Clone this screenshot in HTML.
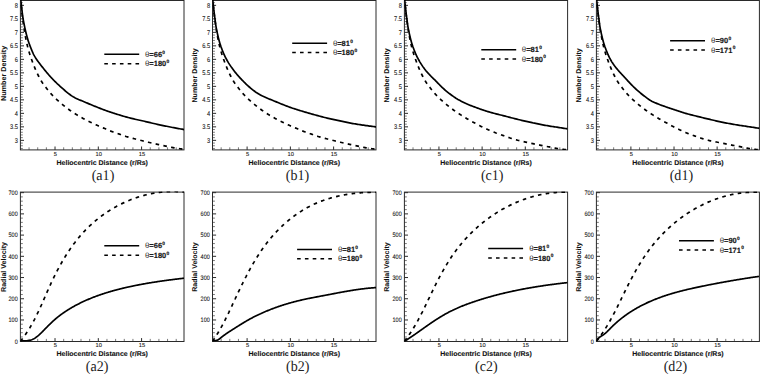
<!DOCTYPE html>
<html><head><meta charset="utf-8"><style>
html,body{margin:0;padding:0;background:#fff;width:760px;height:374px;overflow:hidden}
svg{display:block}
text{font-family:"Liberation Sans", sans-serif;text-rendering:geometricPrecision}
.serif{font-family:"Liberation Serif", serif}
</style></head><body>
<svg width="760" height="374" viewBox="0 0 760 374">
<rect width="760" height="374" fill="#fff"/>
<clipPath id="c00"><rect x="20.40" y="0.00" width="163.60" height="149.90"/></clipPath>
<text transform="translate(18.00,142.75) scale(0.084,0.1)" text-anchor="end" font-size="68.0" fill="#111" stroke="#111" stroke-width="0.8">3</text>
<text transform="translate(18.00,129.25) scale(0.084,0.1)" text-anchor="end" font-size="68.0" fill="#111" stroke="#111" stroke-width="0.8">3.5</text>
<text transform="translate(18.00,115.75) scale(0.084,0.1)" text-anchor="end" font-size="68.0" fill="#111" stroke="#111" stroke-width="0.8">4</text>
<text transform="translate(18.00,102.25) scale(0.084,0.1)" text-anchor="end" font-size="68.0" fill="#111" stroke="#111" stroke-width="0.8">4.5</text>
<text transform="translate(18.00,88.75) scale(0.084,0.1)" text-anchor="end" font-size="68.0" fill="#111" stroke="#111" stroke-width="0.8">5</text>
<text transform="translate(18.00,75.25) scale(0.084,0.1)" text-anchor="end" font-size="68.0" fill="#111" stroke="#111" stroke-width="0.8">5.5</text>
<text transform="translate(18.00,61.75) scale(0.084,0.1)" text-anchor="end" font-size="68.0" fill="#111" stroke="#111" stroke-width="0.8">6</text>
<text transform="translate(18.00,48.25) scale(0.084,0.1)" text-anchor="end" font-size="68.0" fill="#111" stroke="#111" stroke-width="0.8">6.5</text>
<text transform="translate(18.00,34.75) scale(0.084,0.1)" text-anchor="end" font-size="68.0" fill="#111" stroke="#111" stroke-width="0.8">7</text>
<text transform="translate(18.00,21.25) scale(0.084,0.1)" text-anchor="end" font-size="68.0" fill="#111" stroke="#111" stroke-width="0.8">7.5</text>
<text transform="translate(18.00,7.75) scale(0.084,0.1)" text-anchor="end" font-size="68.0" fill="#111" stroke="#111" stroke-width="0.8">8</text>
<text transform="translate(55.42,155.90) scale(0.1,0.1)" text-anchor="middle" font-size="58.0" fill="#111" stroke="#111" stroke-width="0.8">5</text>
<text transform="translate(98.70,155.90) scale(0.1,0.1)" text-anchor="middle" font-size="58.0" fill="#111" stroke="#111" stroke-width="0.8">10</text>
<text transform="translate(141.99,155.90) scale(0.1,0.1)" text-anchor="middle" font-size="58.0" fill="#111" stroke="#111" stroke-width="0.8">15</text>
<path d="M20.40,140.35h3.60M20.40,126.85h3.60M20.40,113.35h3.60M20.40,99.85h3.60M20.40,86.35h3.60M20.40,72.85h3.60M20.40,59.35h3.60M20.40,45.85h3.60M20.40,32.35h3.60M20.40,18.85h3.60M20.40,5.35h3.60M55.02,149.90v-3.40M98.30,149.90v-3.40M141.59,149.90v-3.40" stroke="#2a2a2a" stroke-width="1" fill="none"/>
<path d="M20.40,148.45h2.40M20.40,145.75h2.40M20.40,143.05h2.40M20.40,137.65h2.40M20.40,134.95h2.40M20.40,132.25h2.40M20.40,129.55h2.40M20.40,124.15h2.40M20.40,121.45h2.40M20.40,118.75h2.40M20.40,116.05h2.40M20.40,110.65h2.40M20.40,107.95h2.40M20.40,105.25h2.40M20.40,102.55h2.40M20.40,97.15h2.40M20.40,94.45h2.40M20.40,91.75h2.40M20.40,89.05h2.40M20.40,83.65h2.40M20.40,80.95h2.40M20.40,78.25h2.40M20.40,75.55h2.40M20.40,70.15h2.40M20.40,67.45h2.40M20.40,64.75h2.40M20.40,62.05h2.40M20.40,56.65h2.40M20.40,53.95h2.40M20.40,51.25h2.40M20.40,48.55h2.40M20.40,43.15h2.40M20.40,40.45h2.40M20.40,37.75h2.40M20.40,35.05h2.40M20.40,29.65h2.40M20.40,26.95h2.40M20.40,24.25h2.40M20.40,21.55h2.40M20.40,16.15h2.40M20.40,13.45h2.40M20.40,10.75h2.40M20.40,8.05h2.40M20.40,2.65h2.40M29.06,149.90v-2.60M37.71,149.90v-2.60M46.37,149.90v-2.60M63.68,149.90v-2.60M72.34,149.90v-2.60M80.99,149.90v-2.60M89.65,149.90v-2.60M106.96,149.90v-2.60M115.62,149.90v-2.60M124.27,149.90v-2.60M132.93,149.90v-2.60M150.24,149.90v-2.60M158.90,149.90v-2.60M167.55,149.90v-2.60M176.21,149.90v-2.60" stroke="#555" stroke-width="0.8" fill="none"/>
<rect x="20.40" y="0.50" width="163.60" height="149.40" fill="none" stroke="#2a2a2a" stroke-width="1"/>
<g clip-path="url(#c00)" fill="none" stroke="#000" stroke-width="1.7">
<path d="M20.40,-3.00L20.54,-1.81 20.69,-0.62 20.83,0.57 20.98,1.77 21.12,2.96 21.26,4.15 21.40,5.34 21.54,6.53 21.68,7.72 21.81,8.92 21.94,10.11 22.08,11.30 22.22,12.49 22.37,13.68 22.52,14.87 22.68,16.06 22.86,17.25 23.04,18.44 23.24,19.62 23.45,20.80 23.66,21.98 23.89,23.16 24.12,24.34 24.35,25.52 24.60,26.69 24.85,27.86 25.11,29.03 25.38,30.20 25.65,31.37 25.93,32.54 26.23,33.70 26.53,34.86 26.84,36.02 27.15,37.18 27.48,38.34 27.82,39.49 28.17,40.63 28.54,41.78 28.92,42.91 29.32,44.04 29.74,45.17 30.16,46.29 30.60,47.41 31.05,48.52 31.51,49.63 31.97,50.74 32.44,51.84 32.93,52.94 33.44,54.02 33.98,55.09 34.56,56.14 35.17,57.17 35.81,58.19 36.48,59.19 37.16,60.17 37.85,61.15 38.55,62.13 39.26,63.10 39.98,64.06 40.71,65.01 41.45,65.96 42.19,66.89 42.95,67.83 43.70,68.76 44.45,69.70 45.20,70.63 45.96,71.57 46.72,72.50 47.49,73.41 48.27,74.32 49.07,75.22 49.88,76.11 50.69,76.99 51.51,77.87 52.33,78.74 53.16,79.60 54.00,80.47 54.84,81.32 55.69,82.17 56.55,83.00 57.42,83.83 58.31,84.64 59.19,85.45 60.08,86.26 60.97,87.06 61.86,87.87 62.76,88.66 63.66,89.46 64.56,90.25 65.47,91.03 66.39,91.80 67.32,92.56 68.25,93.31 69.20,94.05 70.17,94.76 71.15,95.45 72.15,96.11 73.17,96.74 74.21,97.34 75.26,97.91 76.33,98.45 77.42,98.95 78.52,99.44 79.62,99.91 80.73,100.37 81.84,100.83 82.94,101.30 84.05,101.76 85.16,102.23 86.26,102.70 87.37,103.16 88.47,103.63 89.58,104.09 90.69,104.55 91.80,105.01 92.91,105.46 94.02,105.92 95.13,106.37 96.24,106.82 97.35,107.27 98.47,107.72 99.58,108.16 100.70,108.60 101.82,109.03 102.94,109.45 104.07,109.87 105.20,110.28 106.33,110.69 107.46,111.08 108.59,111.48 109.73,111.87 110.86,112.25 112.00,112.63 113.14,113.00 114.28,113.37 115.43,113.74 116.57,114.10 117.72,114.46 118.86,114.81 120.01,115.17 121.16,115.51 122.31,115.86 123.46,116.20 124.61,116.53 125.77,116.86 126.92,117.18 128.08,117.49 129.24,117.80 130.40,118.09 131.57,118.38 132.73,118.66 133.90,118.94 135.07,119.21 136.24,119.47 137.41,119.73 138.59,119.99 139.76,120.24 140.93,120.50 142.10,120.76 143.27,121.02 144.44,121.29 145.61,121.56 146.78,121.84 147.95,122.12 149.11,122.40 150.28,122.68 151.45,122.96 152.62,123.23 153.78,123.51 154.95,123.78 156.12,124.04 157.29,124.31 158.47,124.56 159.64,124.82 160.81,125.07 161.99,125.32 163.16,125.57 164.33,125.81 165.51,126.05 166.69,126.29 167.86,126.53 169.04,126.77 170.22,127.00 171.39,127.23 172.57,127.46 173.75,127.68 174.93,127.90 176.11,128.12 177.29,128.34 178.47,128.55 179.65,128.77 180.83,128.98 181.99,129.20 183.12,129.40 184.20,129.60"/>
<path d="M20.40,-3.00L20.50,-1.80 20.61,-0.61 20.71,0.59 20.82,1.78 20.92,2.98 21.03,4.17 21.14,5.37 21.26,6.56 21.38,7.76 21.51,8.95 21.64,10.14 21.78,11.33 21.92,12.52 22.06,13.72 22.21,14.91 22.36,16.10 22.51,17.29 22.66,18.48 22.81,19.67 22.97,20.86 23.12,22.05 23.28,23.24 23.44,24.43 23.61,25.62 23.78,26.80 23.95,27.99 24.14,29.18 24.32,30.36 24.51,31.55 24.71,32.73 24.92,33.91 25.13,35.09 25.36,36.27 25.60,37.45 25.84,38.62 26.09,39.80 26.33,40.97 26.58,42.15 26.83,43.32 27.08,44.49 27.35,45.66 27.63,46.83 27.92,47.99 28.23,49.15 28.56,50.31 28.90,51.46 29.25,52.60 29.62,53.75 29.99,54.89 30.37,56.03 30.75,57.16 31.15,58.29 31.56,59.42 31.97,60.55 32.39,61.68 32.81,62.80 33.24,63.92 33.67,65.04 34.11,66.16 34.55,67.27 35.01,68.38 35.48,69.48 35.96,70.58 36.45,71.68 36.95,72.77 37.47,73.85 37.99,74.93 38.53,76.00 39.09,77.07 39.65,78.13 40.23,79.17 40.83,80.21 41.45,81.24 42.09,82.26 42.75,83.26 43.43,84.24 44.13,85.22 44.85,86.18 45.57,87.14 46.31,88.09 47.05,89.03 47.81,89.96 48.56,90.89 49.33,91.82 50.11,92.73 50.90,93.63 51.70,94.52 52.52,95.40 53.35,96.27 54.19,97.13 55.04,97.97 55.90,98.81 56.77,99.63 57.66,100.44 58.55,101.24 59.46,102.03 60.37,102.80 61.30,103.57 62.23,104.33 63.16,105.08 64.10,105.83 65.04,106.57 65.99,107.31 66.94,108.05 67.89,108.77 68.85,109.49 69.82,110.20 70.79,110.90 71.78,111.59 72.77,112.26 73.77,112.92 74.78,113.57 75.80,114.21 76.82,114.84 77.85,115.46 78.88,116.06 79.92,116.66 80.97,117.25 82.02,117.84 83.07,118.41 84.12,118.99 85.18,119.55 86.24,120.11 87.32,120.64 88.40,121.17 89.48,121.68 90.56,122.20 91.64,122.72 92.72,123.25 93.80,123.78 94.88,124.30 95.96,124.82 97.05,125.32 98.14,125.81 99.25,126.29 100.35,126.75 101.47,127.20 102.58,127.66 103.69,128.11 104.79,128.57 105.90,129.04 107.00,129.51 108.11,129.98 109.21,130.45 110.32,130.90 111.44,131.35 112.56,131.77 113.69,132.18 114.82,132.58 115.95,132.97 117.09,133.35 118.23,133.74 119.36,134.13 120.50,134.52 121.63,134.92 122.76,135.32 123.89,135.71 125.03,136.09 126.17,136.47 127.32,136.82 128.47,137.17 129.62,137.50 130.78,137.82 131.93,138.13 133.09,138.44 134.26,138.74 135.42,139.04 136.58,139.34 137.74,139.63 138.91,139.92 140.07,140.21 141.24,140.49 142.40,140.78 143.57,141.08 144.73,141.37 145.90,141.66 147.06,141.95 148.23,142.23 149.40,142.50 150.57,142.77 151.74,143.04 152.91,143.30 154.08,143.56 155.25,143.82 156.42,144.09 157.59,144.34 158.76,144.60 159.94,144.85 161.11,145.11 162.28,145.36 163.45,145.62 164.63,145.88 165.80,146.14 166.97,146.40 168.14,146.66 169.31,146.91 170.49,147.14 171.67,147.37 172.85,147.59 174.03,147.81 175.21,148.01 176.39,148.21 177.58,148.39 178.77,148.57 179.96,148.73 181.14,148.89 182.30,149.04 183.39,149.17 184.40,149.30" stroke-dasharray="3.6 4.3"/>
</g>
<path d="M104.30,54.20h34.9" stroke="#000" stroke-width="1.5"/>
<path d="M104.30,63.70h34.9" stroke="#000" stroke-width="1.5" stroke-dasharray="3.6 4.2"/>
<text transform="translate(145.00,56.80) scale(0.1,0.1)" font-size="75.0" fill="#1a1a1a" stroke="#1a1a1a" stroke-width="1.8"><tspan fill="#333" stroke="none" font-size="78">&#952;</tspan><tspan font-weight="bold">=66</tspan><tspan font-size="48" dy="-33" dx="3" font-weight="bold">0</tspan></text>
<text transform="translate(145.00,66.30) scale(0.1,0.1)" font-size="75.0" fill="#1a1a1a" stroke="#1a1a1a" stroke-width="1.8"><tspan fill="#333" stroke="none" font-size="78">&#952;</tspan><tspan font-weight="bold">=180</tspan><tspan font-size="48" dy="-33" dx="3" font-weight="bold">0</tspan></text>
<text transform="translate(102.20,164.80) scale(0.1,0.1)" text-anchor="middle" font-size="70.0" font-weight="bold" fill="#111" stroke="#111" stroke-width="1.2">Heliocentric Distance (r/Rs)</text>
<text transform="translate(5.50,73.40) rotate(-90) scale(0.1,0.1)" text-anchor="middle" font-size="72.0" font-weight="bold" fill="#111" stroke="#111" stroke-width="0.5">Number Density</text>
<text transform="translate(103.00,179.60) scale(0.095,0.1)" text-anchor="middle" font-size="148.0" class="serif" fill="#222">(a1)</text>
<clipPath id="c10"><rect x="212.50" y="0.00" width="163.50" height="149.90"/></clipPath>
<text transform="translate(210.10,142.75) scale(0.084,0.1)" text-anchor="end" font-size="68.0" fill="#111" stroke="#111" stroke-width="0.8">3</text>
<text transform="translate(210.10,129.25) scale(0.084,0.1)" text-anchor="end" font-size="68.0" fill="#111" stroke="#111" stroke-width="0.8">3.5</text>
<text transform="translate(210.10,115.75) scale(0.084,0.1)" text-anchor="end" font-size="68.0" fill="#111" stroke="#111" stroke-width="0.8">4</text>
<text transform="translate(210.10,102.25) scale(0.084,0.1)" text-anchor="end" font-size="68.0" fill="#111" stroke="#111" stroke-width="0.8">4.5</text>
<text transform="translate(210.10,88.75) scale(0.084,0.1)" text-anchor="end" font-size="68.0" fill="#111" stroke="#111" stroke-width="0.8">5</text>
<text transform="translate(210.10,75.25) scale(0.084,0.1)" text-anchor="end" font-size="68.0" fill="#111" stroke="#111" stroke-width="0.8">5.5</text>
<text transform="translate(210.10,61.75) scale(0.084,0.1)" text-anchor="end" font-size="68.0" fill="#111" stroke="#111" stroke-width="0.8">6</text>
<text transform="translate(210.10,48.25) scale(0.084,0.1)" text-anchor="end" font-size="68.0" fill="#111" stroke="#111" stroke-width="0.8">6.5</text>
<text transform="translate(210.10,34.75) scale(0.084,0.1)" text-anchor="end" font-size="68.0" fill="#111" stroke="#111" stroke-width="0.8">7</text>
<text transform="translate(210.10,21.25) scale(0.084,0.1)" text-anchor="end" font-size="68.0" fill="#111" stroke="#111" stroke-width="0.8">7.5</text>
<text transform="translate(210.10,7.75) scale(0.084,0.1)" text-anchor="end" font-size="68.0" fill="#111" stroke="#111" stroke-width="0.8">8</text>
<text transform="translate(247.50,155.90) scale(0.1,0.1)" text-anchor="middle" font-size="58.0" fill="#111" stroke="#111" stroke-width="0.8">5</text>
<text transform="translate(290.76,155.90) scale(0.1,0.1)" text-anchor="middle" font-size="58.0" fill="#111" stroke="#111" stroke-width="0.8">10</text>
<text transform="translate(334.01,155.90) scale(0.1,0.1)" text-anchor="middle" font-size="58.0" fill="#111" stroke="#111" stroke-width="0.8">15</text>
<path d="M212.50,140.35h3.60M212.50,126.85h3.60M212.50,113.35h3.60M212.50,99.85h3.60M212.50,86.35h3.60M212.50,72.85h3.60M212.50,59.35h3.60M212.50,45.85h3.60M212.50,32.35h3.60M212.50,18.85h3.60M212.50,5.35h3.60M247.10,149.90v-3.40M290.36,149.90v-3.40M333.61,149.90v-3.40" stroke="#2a2a2a" stroke-width="1" fill="none"/>
<path d="M212.50,148.45h2.40M212.50,145.75h2.40M212.50,143.05h2.40M212.50,137.65h2.40M212.50,134.95h2.40M212.50,132.25h2.40M212.50,129.55h2.40M212.50,124.15h2.40M212.50,121.45h2.40M212.50,118.75h2.40M212.50,116.05h2.40M212.50,110.65h2.40M212.50,107.95h2.40M212.50,105.25h2.40M212.50,102.55h2.40M212.50,97.15h2.40M212.50,94.45h2.40M212.50,91.75h2.40M212.50,89.05h2.40M212.50,83.65h2.40M212.50,80.95h2.40M212.50,78.25h2.40M212.50,75.55h2.40M212.50,70.15h2.40M212.50,67.45h2.40M212.50,64.75h2.40M212.50,62.05h2.40M212.50,56.65h2.40M212.50,53.95h2.40M212.50,51.25h2.40M212.50,48.55h2.40M212.50,43.15h2.40M212.50,40.45h2.40M212.50,37.75h2.40M212.50,35.05h2.40M212.50,29.65h2.40M212.50,26.95h2.40M212.50,24.25h2.40M212.50,21.55h2.40M212.50,16.15h2.40M212.50,13.45h2.40M212.50,10.75h2.40M212.50,8.05h2.40M212.50,2.65h2.40M221.15,149.90v-2.60M229.80,149.90v-2.60M238.45,149.90v-2.60M255.75,149.90v-2.60M264.40,149.90v-2.60M273.06,149.90v-2.60M281.71,149.90v-2.60M299.01,149.90v-2.60M307.66,149.90v-2.60M316.31,149.90v-2.60M324.96,149.90v-2.60M342.26,149.90v-2.60M350.91,149.90v-2.60M359.56,149.90v-2.60M368.21,149.90v-2.60" stroke="#555" stroke-width="0.8" fill="none"/>
<rect x="212.50" y="0.50" width="163.50" height="149.40" fill="none" stroke="#2a2a2a" stroke-width="1"/>
<g clip-path="url(#c10)" fill="none" stroke="#000" stroke-width="1.7">
<path d="M212.50,-3.00L212.61,-1.81 212.72,-0.61 212.83,0.58 212.95,1.78 213.06,2.97 213.18,4.17 213.31,5.36 213.44,6.55 213.58,7.75 213.71,8.94 213.85,10.13 213.99,11.32 214.14,12.51 214.28,13.70 214.43,14.90 214.58,16.09 214.74,17.27 214.91,18.46 215.07,19.65 215.24,20.84 215.39,22.03 215.54,23.22 215.70,24.41 215.86,25.60 216.05,26.78 216.25,27.97 216.47,29.15 216.71,30.32 216.96,31.50 217.21,32.67 217.48,33.84 217.74,35.01 218.01,36.18 218.28,37.35 218.57,38.51 218.86,39.68 219.17,40.84 219.50,41.99 219.84,43.14 220.20,44.28 220.58,45.42 220.96,46.56 221.37,47.69 221.78,48.82 222.20,49.94 222.63,51.06 223.08,52.17 223.54,53.28 224.02,54.38 224.52,55.47 225.04,56.55 225.58,57.62 226.14,58.68 226.72,59.73 227.31,60.78 227.92,61.81 228.53,62.84 229.17,63.86 229.82,64.87 230.48,65.87 231.16,66.86 231.86,67.84 232.57,68.80 233.29,69.76 234.01,70.72 234.75,71.67 235.49,72.61 236.25,73.54 237.01,74.46 237.79,75.38 238.58,76.28 239.38,77.17 240.20,78.06 241.02,78.93 241.85,79.79 242.69,80.65 243.53,81.51 244.37,82.37 245.21,83.22 246.07,84.06 246.93,84.89 247.82,85.71 248.72,86.50 249.63,87.27 250.56,88.04 251.49,88.79 252.42,89.55 253.35,90.30 254.30,91.04 255.26,91.76 256.25,92.43 257.26,93.08 258.28,93.70 259.32,94.31 260.37,94.89 261.43,95.45 262.50,95.99 263.59,96.50 264.68,97.00 265.77,97.49 266.87,97.97 267.98,98.44 269.08,98.91 270.19,99.37 271.30,99.83 272.41,100.29 273.52,100.75 274.62,101.21 275.73,101.66 276.84,102.12 277.96,102.57 279.07,103.02 280.18,103.47 281.29,103.92 282.41,104.37 283.52,104.81 284.64,105.25 285.75,105.69 286.87,106.13 287.99,106.55 289.12,106.98 290.24,107.39 291.37,107.79 292.51,108.18 293.65,108.56 294.79,108.93 295.93,109.29 297.08,109.65 298.23,110.00 299.37,110.35 300.52,110.70 301.67,111.05 302.82,111.39 303.97,111.73 305.12,112.07 306.27,112.41 307.43,112.74 308.58,113.08 309.73,113.41 310.89,113.74 312.04,114.07 313.20,114.39 314.35,114.72 315.51,115.04 316.66,115.36 317.82,115.68 318.98,115.99 320.14,116.30 321.30,116.61 322.46,116.91 323.62,117.20 324.79,117.49 325.95,117.78 327.12,118.05 328.29,118.33 329.46,118.60 330.63,118.86 331.80,119.12 332.97,119.38 334.14,119.63 335.32,119.89 336.49,120.14 337.66,120.39 338.84,120.64 340.01,120.90 341.18,121.15 342.36,121.40 343.53,121.65 344.70,121.90 345.88,122.15 347.05,122.39 348.23,122.63 349.41,122.87 350.58,123.10 351.76,123.32 352.94,123.54 354.12,123.75 355.31,123.95 356.49,124.15 357.68,124.34 358.86,124.52 360.05,124.70 361.24,124.87 362.42,125.04 363.61,125.21 364.80,125.38 365.99,125.55 367.18,125.71 368.36,125.88 369.55,126.04 370.74,126.21 371.93,126.36 373.12,126.52 374.29,126.66 375.45,126.81 376.20,126.90"/>
<path d="M212.50,-3.00L212.60,-1.80 212.71,-0.61 212.81,0.59 212.92,1.78 213.02,2.98 213.13,4.17 213.24,5.37 213.36,6.56 213.48,7.76 213.61,8.95 213.74,10.14 213.88,11.33 214.02,12.52 214.16,13.72 214.31,14.91 214.46,16.10 214.61,17.29 214.76,18.48 214.91,19.67 215.07,20.86 215.22,22.05 215.38,23.24 215.54,24.43 215.71,25.62 215.88,26.80 216.05,27.99 216.24,29.18 216.42,30.36 216.61,31.55 216.81,32.73 217.02,33.91 217.23,35.09 217.46,36.27 217.70,37.45 217.94,38.62 218.19,39.80 218.43,40.97 218.68,42.15 218.93,43.32 219.18,44.49 219.45,45.66 219.73,46.83 220.02,47.99 220.33,49.15 220.66,50.31 221.00,51.46 221.35,52.60 221.72,53.75 222.09,54.89 222.47,56.03 222.85,57.16 223.25,58.29 223.66,59.42 224.07,60.55 224.49,61.68 224.91,62.80 225.34,63.92 225.77,65.04 226.21,66.16 226.65,67.27 227.11,68.38 227.58,69.48 228.06,70.58 228.55,71.68 229.05,72.77 229.57,73.85 230.09,74.93 230.63,76.00 231.19,77.07 231.75,78.13 232.33,79.17 232.93,80.21 233.55,81.24 234.19,82.26 234.85,83.26 235.53,84.24 236.23,85.22 236.95,86.18 237.67,87.14 238.41,88.09 239.15,89.03 239.91,89.96 240.66,90.89 241.43,91.82 242.21,92.73 243.00,93.63 243.80,94.52 244.62,95.40 245.45,96.27 246.29,97.13 247.14,97.97 248.00,98.81 248.87,99.63 249.76,100.44 250.65,101.24 251.56,102.03 252.47,102.80 253.40,103.57 254.33,104.33 255.26,105.08 256.20,105.83 257.14,106.57 258.09,107.31 259.04,108.05 259.99,108.77 260.95,109.49 261.92,110.20 262.89,110.90 263.88,111.59 264.87,112.26 265.87,112.92 266.88,113.57 267.90,114.21 268.92,114.84 269.95,115.46 270.98,116.06 272.02,116.66 273.07,117.25 274.12,117.84 275.17,118.41 276.22,118.99 277.28,119.55 278.34,120.11 279.42,120.64 280.50,121.17 281.58,121.68 282.66,122.20 283.74,122.72 284.82,123.25 285.90,123.78 286.98,124.30 288.06,124.82 289.15,125.32 290.24,125.81 291.35,126.29 292.45,126.75 293.57,127.20 294.68,127.66 295.79,128.11 296.89,128.57 298.00,129.04 299.10,129.51 300.21,129.98 301.31,130.45 302.42,130.90 303.54,131.35 304.66,131.77 305.79,132.18 306.92,132.58 308.05,132.97 309.19,133.35 310.33,133.74 311.46,134.13 312.60,134.52 313.73,134.92 314.86,135.32 315.99,135.71 317.13,136.09 318.27,136.47 319.42,136.82 320.57,137.17 321.72,137.50 322.88,137.82 324.03,138.13 325.19,138.44 326.36,138.74 327.52,139.04 328.68,139.34 329.84,139.63 331.01,139.92 332.17,140.21 333.34,140.49 334.50,140.78 335.67,141.08 336.83,141.37 338.00,141.66 339.16,141.95 340.33,142.23 341.50,142.50 342.67,142.77 343.84,143.04 345.01,143.30 346.18,143.56 347.35,143.82 348.52,144.09 349.69,144.34 350.86,144.60 352.04,144.85 353.21,145.11 354.38,145.36 355.55,145.62 356.73,145.88 357.90,146.14 359.07,146.40 360.24,146.66 361.41,146.91 362.59,147.14 363.77,147.37 364.95,147.59 366.13,147.81 367.31,148.01 368.49,148.21 369.68,148.39 370.87,148.57 372.06,148.73 373.24,148.89 374.40,149.04 375.49,149.17 376.50,149.30" stroke-dasharray="3.6 4.3"/>
</g>
<path d="M292.20,43.20h34.9" stroke="#000" stroke-width="1.5"/>
<path d="M292.20,52.40h34.9" stroke="#000" stroke-width="1.5" stroke-dasharray="3.6 4.2"/>
<text transform="translate(332.90,45.80) scale(0.1,0.1)" font-size="75.0" fill="#1a1a1a" stroke="#1a1a1a" stroke-width="1.8"><tspan fill="#333" stroke="none" font-size="78">&#952;</tspan><tspan font-weight="bold">=81</tspan><tspan font-size="48" dy="-33" dx="3" font-weight="bold">0</tspan></text>
<text transform="translate(332.90,55.00) scale(0.1,0.1)" font-size="75.0" fill="#1a1a1a" stroke="#1a1a1a" stroke-width="1.8"><tspan fill="#333" stroke="none" font-size="78">&#952;</tspan><tspan font-weight="bold">=180</tspan><tspan font-size="48" dy="-33" dx="3" font-weight="bold">0</tspan></text>
<text transform="translate(294.25,164.80) scale(0.1,0.1)" text-anchor="middle" font-size="70.0" font-weight="bold" fill="#111" stroke="#111" stroke-width="1.2">Heliocentric Distance (r/Rs)</text>
<text transform="translate(197.10,75.40) rotate(-90) scale(0.1,0.1)" text-anchor="middle" font-size="70.7" font-weight="bold" fill="#111" stroke="#111" stroke-width="0.5">Number Density</text>
<text transform="translate(297.55,179.60) scale(0.095,0.1)" text-anchor="middle" font-size="148.0" class="serif" fill="#222">(b1)</text>
<clipPath id="c20"><rect x="404.40" y="0.00" width="163.20" height="149.90"/></clipPath>
<text transform="translate(402.00,142.75) scale(0.084,0.1)" text-anchor="end" font-size="68.0" fill="#111" stroke="#111" stroke-width="0.8">3</text>
<text transform="translate(402.00,129.25) scale(0.084,0.1)" text-anchor="end" font-size="68.0" fill="#111" stroke="#111" stroke-width="0.8">3.5</text>
<text transform="translate(402.00,115.75) scale(0.084,0.1)" text-anchor="end" font-size="68.0" fill="#111" stroke="#111" stroke-width="0.8">4</text>
<text transform="translate(402.00,102.25) scale(0.084,0.1)" text-anchor="end" font-size="68.0" fill="#111" stroke="#111" stroke-width="0.8">4.5</text>
<text transform="translate(402.00,88.75) scale(0.084,0.1)" text-anchor="end" font-size="68.0" fill="#111" stroke="#111" stroke-width="0.8">5</text>
<text transform="translate(402.00,75.25) scale(0.084,0.1)" text-anchor="end" font-size="68.0" fill="#111" stroke="#111" stroke-width="0.8">5.5</text>
<text transform="translate(402.00,61.75) scale(0.084,0.1)" text-anchor="end" font-size="68.0" fill="#111" stroke="#111" stroke-width="0.8">6</text>
<text transform="translate(402.00,48.25) scale(0.084,0.1)" text-anchor="end" font-size="68.0" fill="#111" stroke="#111" stroke-width="0.8">6.5</text>
<text transform="translate(402.00,34.75) scale(0.084,0.1)" text-anchor="end" font-size="68.0" fill="#111" stroke="#111" stroke-width="0.8">7</text>
<text transform="translate(402.00,21.25) scale(0.084,0.1)" text-anchor="end" font-size="68.0" fill="#111" stroke="#111" stroke-width="0.8">7.5</text>
<text transform="translate(402.00,7.75) scale(0.084,0.1)" text-anchor="end" font-size="68.0" fill="#111" stroke="#111" stroke-width="0.8">8</text>
<text transform="translate(439.34,155.90) scale(0.1,0.1)" text-anchor="middle" font-size="58.0" fill="#111" stroke="#111" stroke-width="0.8">5</text>
<text transform="translate(482.51,155.90) scale(0.1,0.1)" text-anchor="middle" font-size="58.0" fill="#111" stroke="#111" stroke-width="0.8">10</text>
<text transform="translate(525.69,155.90) scale(0.1,0.1)" text-anchor="middle" font-size="58.0" fill="#111" stroke="#111" stroke-width="0.8">15</text>
<path d="M404.40,140.35h3.60M404.40,126.85h3.60M404.40,113.35h3.60M404.40,99.85h3.60M404.40,86.35h3.60M404.40,72.85h3.60M404.40,59.35h3.60M404.40,45.85h3.60M404.40,32.35h3.60M404.40,18.85h3.60M404.40,5.35h3.60M438.94,149.90v-3.40M482.11,149.90v-3.40M525.29,149.90v-3.40" stroke="#2a2a2a" stroke-width="1" fill="none"/>
<path d="M404.40,148.45h2.40M404.40,145.75h2.40M404.40,143.05h2.40M404.40,137.65h2.40M404.40,134.95h2.40M404.40,132.25h2.40M404.40,129.55h2.40M404.40,124.15h2.40M404.40,121.45h2.40M404.40,118.75h2.40M404.40,116.05h2.40M404.40,110.65h2.40M404.40,107.95h2.40M404.40,105.25h2.40M404.40,102.55h2.40M404.40,97.15h2.40M404.40,94.45h2.40M404.40,91.75h2.40M404.40,89.05h2.40M404.40,83.65h2.40M404.40,80.95h2.40M404.40,78.25h2.40M404.40,75.55h2.40M404.40,70.15h2.40M404.40,67.45h2.40M404.40,64.75h2.40M404.40,62.05h2.40M404.40,56.65h2.40M404.40,53.95h2.40M404.40,51.25h2.40M404.40,48.55h2.40M404.40,43.15h2.40M404.40,40.45h2.40M404.40,37.75h2.40M404.40,35.05h2.40M404.40,29.65h2.40M404.40,26.95h2.40M404.40,24.25h2.40M404.40,21.55h2.40M404.40,16.15h2.40M404.40,13.45h2.40M404.40,10.75h2.40M404.40,8.05h2.40M404.40,2.65h2.40M413.03,149.90v-2.60M421.67,149.90v-2.60M430.30,149.90v-2.60M447.57,149.90v-2.60M456.21,149.90v-2.60M464.84,149.90v-2.60M473.48,149.90v-2.60M490.75,149.90v-2.60M499.38,149.90v-2.60M508.02,149.90v-2.60M516.65,149.90v-2.60M533.92,149.90v-2.60M542.56,149.90v-2.60M551.19,149.90v-2.60M559.83,149.90v-2.60" stroke="#555" stroke-width="0.8" fill="none"/>
<rect x="404.40" y="0.50" width="163.20" height="149.40" fill="none" stroke="#2a2a2a" stroke-width="1"/>
<g clip-path="url(#c20)" fill="none" stroke="#000" stroke-width="1.7">
<path d="M404.40,-3.00L404.51,-1.81 404.62,-0.61 404.73,0.58 404.85,1.78 404.96,2.97 405.08,4.17 405.21,5.36 405.34,6.55 405.48,7.75 405.61,8.94 405.75,10.13 405.89,11.32 406.04,12.51 406.18,13.70 406.33,14.90 406.48,16.09 406.64,17.27 406.81,18.46 406.97,19.65 407.14,20.84 407.29,22.03 407.44,23.22 407.60,24.41 407.76,25.60 407.95,26.78 408.15,27.97 408.37,29.15 408.61,30.32 408.86,31.50 409.11,32.67 409.38,33.84 409.64,35.01 409.91,36.18 410.18,37.35 410.47,38.51 410.76,39.68 411.07,40.84 411.40,41.99 411.74,43.14 412.10,44.28 412.48,45.42 412.86,46.56 413.27,47.69 413.68,48.82 414.10,49.94 414.53,51.06 414.98,52.17 415.44,53.28 415.92,54.38 416.42,55.47 416.94,56.55 417.48,57.62 418.04,58.68 418.62,59.74 419.21,60.78 419.81,61.82 420.43,62.84 421.06,63.87 421.70,64.88 422.36,65.88 423.03,66.88 423.72,67.86 424.43,68.83 425.17,69.77 425.93,70.70 426.71,71.61 427.50,72.51 428.31,73.40 429.13,74.28 429.95,75.15 430.78,76.02 431.61,76.88 432.46,77.73 433.33,78.56 434.20,79.38 435.07,80.21 435.91,81.06 436.75,81.92 437.58,82.79 438.40,83.66 439.24,84.52 440.07,85.38 440.92,86.23 441.79,87.06 442.66,87.88 443.55,88.69 444.45,89.49 445.35,90.27 446.27,91.05 447.19,91.81 448.13,92.57 449.07,93.31 450.02,94.03 450.99,94.75 451.96,95.45 452.94,96.15 453.92,96.83 454.91,97.51 455.91,98.18 456.92,98.82 457.95,99.44 459.00,100.02 460.06,100.58 461.12,101.14 462.19,101.68 463.26,102.22 464.34,102.75 465.42,103.26 466.51,103.76 467.61,104.25 468.72,104.72 469.83,105.17 470.94,105.62 472.06,106.05 473.18,106.48 474.30,106.91 475.43,107.32 476.55,107.74 477.68,108.14 478.81,108.55 479.94,108.95 481.08,109.34 482.21,109.74 483.35,110.12 484.49,110.50 485.63,110.87 486.77,111.23 487.92,111.58 489.07,111.93 490.22,112.27 491.37,112.60 492.53,112.93 493.68,113.24 494.84,113.55 496.01,113.85 497.17,114.14 498.34,114.42 499.50,114.71 500.67,114.99 501.83,115.28 503.00,115.58 504.16,115.88 505.32,116.18 506.48,116.48 507.64,116.79 508.80,117.09 509.96,117.40 511.12,117.70 512.28,118.00 513.45,118.30 514.61,118.60 515.77,118.89 516.94,119.18 518.10,119.47 519.27,119.75 520.43,120.03 521.60,120.31 522.77,120.59 523.94,120.86 525.11,121.14 526.28,121.41 527.45,121.67 528.62,121.93 529.79,122.19 530.96,122.45 532.13,122.70 533.31,122.96 534.48,123.20 535.66,123.45 536.83,123.69 538.01,123.93 539.18,124.16 540.36,124.40 541.54,124.62 542.72,124.85 543.90,125.07 545.08,125.29 546.26,125.50 547.44,125.71 548.62,125.91 549.81,126.10 550.99,126.29 552.18,126.48 553.36,126.67 554.55,126.85 555.74,127.03 556.92,127.20 558.11,127.38 559.30,127.56 560.48,127.74 561.67,127.93 562.85,128.12 564.03,128.31 565.20,128.50 566.29,128.68 567.29,128.85 567.60,128.90"/>
<path d="M404.40,-3.00L404.50,-1.80 404.61,-0.61 404.71,0.59 404.82,1.78 404.92,2.98 405.03,4.17 405.14,5.37 405.26,6.56 405.38,7.76 405.51,8.95 405.64,10.14 405.78,11.33 405.92,12.52 406.06,13.72 406.21,14.91 406.36,16.10 406.51,17.29 406.66,18.48 406.81,19.67 406.97,20.86 407.12,22.05 407.28,23.24 407.44,24.43 407.61,25.62 407.78,26.80 407.95,27.99 408.14,29.18 408.32,30.36 408.51,31.55 408.71,32.73 408.92,33.91 409.13,35.09 409.36,36.27 409.60,37.45 409.84,38.62 410.09,39.80 410.33,40.97 410.58,42.15 410.83,43.32 411.08,44.49 411.35,45.66 411.63,46.83 411.92,47.99 412.23,49.15 412.56,50.31 412.90,51.46 413.25,52.60 413.62,53.75 413.99,54.89 414.37,56.03 414.75,57.16 415.15,58.29 415.56,59.42 415.97,60.55 416.39,61.68 416.81,62.80 417.24,63.92 417.67,65.04 418.11,66.16 418.55,67.27 419.01,68.38 419.48,69.48 419.96,70.58 420.45,71.68 420.95,72.77 421.47,73.85 421.99,74.93 422.53,76.00 423.09,77.07 423.65,78.13 424.23,79.17 424.83,80.21 425.45,81.24 426.09,82.26 426.75,83.26 427.43,84.24 428.13,85.22 428.85,86.18 429.57,87.14 430.31,88.09 431.05,89.03 431.81,89.96 432.56,90.89 433.33,91.82 434.11,92.73 434.90,93.63 435.70,94.52 436.52,95.40 437.35,96.27 438.19,97.13 439.04,97.97 439.90,98.81 440.77,99.63 441.66,100.44 442.55,101.24 443.46,102.03 444.37,102.80 445.30,103.57 446.23,104.33 447.16,105.08 448.10,105.83 449.04,106.57 449.99,107.31 450.94,108.04 451.89,108.77 452.85,109.49 453.82,110.20 454.79,110.90 455.78,111.59 456.77,112.27 457.76,112.94 458.76,113.60 459.77,114.25 460.78,114.90 461.80,115.54 462.81,116.17 463.83,116.81 464.86,117.43 465.88,118.06 466.91,118.68 467.94,119.29 468.98,119.90 470.02,120.49 471.07,121.07 472.12,121.64 473.19,122.20 474.25,122.75 475.31,123.31 476.37,123.88 477.42,124.45 478.48,125.02 479.54,125.59 480.60,126.14 481.68,126.68 482.75,127.21 483.84,127.72 484.92,128.23 486.02,128.73 487.11,129.22 488.21,129.71 489.30,130.19 490.40,130.67 491.51,131.15 492.61,131.61 493.72,132.07 494.84,132.51 495.96,132.95 497.08,133.36 498.21,133.77 499.34,134.16 500.48,134.55 501.62,134.94 502.75,135.33 503.88,135.73 505.01,136.15 506.13,136.56 507.26,136.98 508.38,137.40 509.51,137.80 510.65,138.19 511.79,138.56 512.93,138.91 514.08,139.26 515.24,139.59 516.39,139.91 517.55,140.22 518.71,140.52 519.88,140.81 521.05,141.08 522.22,141.35 523.39,141.61 524.56,141.87 525.73,142.13 526.90,142.40 528.07,142.67 529.24,142.93 530.41,143.20 531.58,143.45 532.76,143.70 533.93,143.94 535.11,144.18 536.29,144.41 537.46,144.64 538.64,144.87 539.82,145.10 541.00,145.33 542.18,145.56 543.35,145.78 544.53,146.01 545.71,146.24 546.89,146.47 548.06,146.71 549.24,146.95 550.41,147.20 551.59,147.44 552.77,147.68 553.94,147.90 555.12,148.12 556.31,148.33 557.49,148.53 558.67,148.72 559.86,148.90 561.05,149.07 562.24,149.22 563.43,149.36 564.62,149.49 565.80,149.60 566.95,149.71 568.04,149.81 568.40,149.85" stroke-dasharray="3.6 4.3"/>
</g>
<path d="M481.30,49.70h34.9" stroke="#000" stroke-width="1.5"/>
<path d="M481.30,58.90h34.9" stroke="#000" stroke-width="1.5" stroke-dasharray="3.6 4.2"/>
<text transform="translate(521.80,52.30) scale(0.1,0.1)" font-size="75.0" fill="#1a1a1a" stroke="#1a1a1a" stroke-width="1.8"><tspan fill="#333" stroke="none" font-size="78">&#952;</tspan><tspan font-weight="bold">=81</tspan><tspan font-size="48" dy="-33" dx="3" font-weight="bold">0</tspan></text>
<text transform="translate(521.80,61.50) scale(0.1,0.1)" font-size="75.0" fill="#1a1a1a" stroke="#1a1a1a" stroke-width="1.8"><tspan fill="#333" stroke="none" font-size="78">&#952;</tspan><tspan font-weight="bold">=180</tspan><tspan font-size="48" dy="-33" dx="3" font-weight="bold">0</tspan></text>
<text transform="translate(486.00,164.80) scale(0.1,0.1)" text-anchor="middle" font-size="70.0" font-weight="bold" fill="#111" stroke="#111" stroke-width="1.2">Heliocentric Distance (r/Rs)</text>
<text transform="translate(389.00,75.40) rotate(-90) scale(0.1,0.1)" text-anchor="middle" font-size="70.7" font-weight="bold" fill="#111" stroke="#111" stroke-width="0.5">Number Density</text>
<text transform="translate(492.20,179.60) scale(0.095,0.1)" text-anchor="middle" font-size="148.0" class="serif" fill="#222">(c1)</text>
<clipPath id="c30"><rect x="596.40" y="0.00" width="163.00" height="149.90"/></clipPath>
<text transform="translate(594.00,142.75) scale(0.084,0.1)" text-anchor="end" font-size="68.0" fill="#111" stroke="#111" stroke-width="0.8">3</text>
<text transform="translate(594.00,129.25) scale(0.084,0.1)" text-anchor="end" font-size="68.0" fill="#111" stroke="#111" stroke-width="0.8">3.5</text>
<text transform="translate(594.00,115.75) scale(0.084,0.1)" text-anchor="end" font-size="68.0" fill="#111" stroke="#111" stroke-width="0.8">4</text>
<text transform="translate(594.00,102.25) scale(0.084,0.1)" text-anchor="end" font-size="68.0" fill="#111" stroke="#111" stroke-width="0.8">4.5</text>
<text transform="translate(594.00,88.75) scale(0.084,0.1)" text-anchor="end" font-size="68.0" fill="#111" stroke="#111" stroke-width="0.8">5</text>
<text transform="translate(594.00,75.25) scale(0.084,0.1)" text-anchor="end" font-size="68.0" fill="#111" stroke="#111" stroke-width="0.8">5.5</text>
<text transform="translate(594.00,61.75) scale(0.084,0.1)" text-anchor="end" font-size="68.0" fill="#111" stroke="#111" stroke-width="0.8">6</text>
<text transform="translate(594.00,48.25) scale(0.084,0.1)" text-anchor="end" font-size="68.0" fill="#111" stroke="#111" stroke-width="0.8">6.5</text>
<text transform="translate(594.00,34.75) scale(0.084,0.1)" text-anchor="end" font-size="68.0" fill="#111" stroke="#111" stroke-width="0.8">7</text>
<text transform="translate(594.00,21.25) scale(0.084,0.1)" text-anchor="end" font-size="68.0" fill="#111" stroke="#111" stroke-width="0.8">7.5</text>
<text transform="translate(594.00,7.75) scale(0.084,0.1)" text-anchor="end" font-size="68.0" fill="#111" stroke="#111" stroke-width="0.8">8</text>
<text transform="translate(631.30,155.90) scale(0.1,0.1)" text-anchor="middle" font-size="58.0" fill="#111" stroke="#111" stroke-width="0.8">5</text>
<text transform="translate(674.42,155.90) scale(0.1,0.1)" text-anchor="middle" font-size="58.0" fill="#111" stroke="#111" stroke-width="0.8">10</text>
<text transform="translate(717.54,155.90) scale(0.1,0.1)" text-anchor="middle" font-size="58.0" fill="#111" stroke="#111" stroke-width="0.8">15</text>
<path d="M596.40,140.35h3.60M596.40,126.85h3.60M596.40,113.35h3.60M596.40,99.85h3.60M596.40,86.35h3.60M596.40,72.85h3.60M596.40,59.35h3.60M596.40,45.85h3.60M596.40,32.35h3.60M596.40,18.85h3.60M596.40,5.35h3.60M630.90,149.90v-3.40M674.02,149.90v-3.40M717.14,149.90v-3.40" stroke="#2a2a2a" stroke-width="1" fill="none"/>
<path d="M596.40,148.45h2.40M596.40,145.75h2.40M596.40,143.05h2.40M596.40,137.65h2.40M596.40,134.95h2.40M596.40,132.25h2.40M596.40,129.55h2.40M596.40,124.15h2.40M596.40,121.45h2.40M596.40,118.75h2.40M596.40,116.05h2.40M596.40,110.65h2.40M596.40,107.95h2.40M596.40,105.25h2.40M596.40,102.55h2.40M596.40,97.15h2.40M596.40,94.45h2.40M596.40,91.75h2.40M596.40,89.05h2.40M596.40,83.65h2.40M596.40,80.95h2.40M596.40,78.25h2.40M596.40,75.55h2.40M596.40,70.15h2.40M596.40,67.45h2.40M596.40,64.75h2.40M596.40,62.05h2.40M596.40,56.65h2.40M596.40,53.95h2.40M596.40,51.25h2.40M596.40,48.55h2.40M596.40,43.15h2.40M596.40,40.45h2.40M596.40,37.75h2.40M596.40,35.05h2.40M596.40,29.65h2.40M596.40,26.95h2.40M596.40,24.25h2.40M596.40,21.55h2.40M596.40,16.15h2.40M596.40,13.45h2.40M596.40,10.75h2.40M596.40,8.05h2.40M596.40,2.65h2.40M605.02,149.90v-2.60M613.65,149.90v-2.60M622.27,149.90v-2.60M639.52,149.90v-2.60M648.15,149.90v-2.60M656.77,149.90v-2.60M665.39,149.90v-2.60M682.64,149.90v-2.60M691.27,149.90v-2.60M699.89,149.90v-2.60M708.52,149.90v-2.60M725.77,149.90v-2.60M734.39,149.90v-2.60M743.01,149.90v-2.60M751.64,149.90v-2.60" stroke="#555" stroke-width="0.8" fill="none"/>
<rect x="596.40" y="0.50" width="163.00" height="149.40" fill="none" stroke="#2a2a2a" stroke-width="1"/>
<g clip-path="url(#c30)" fill="none" stroke="#000" stroke-width="1.7">
<path d="M596.40,-3.00L596.51,-1.81 596.62,-0.61 596.73,0.58 596.85,1.78 596.96,2.97 597.08,4.17 597.21,5.36 597.34,6.55 597.48,7.75 597.61,8.94 597.75,10.13 597.89,11.32 598.04,12.51 598.18,13.70 598.33,14.90 598.48,16.09 598.64,17.27 598.81,18.46 598.97,19.65 599.14,20.84 599.29,22.03 599.44,23.22 599.60,24.41 599.76,25.60 599.95,26.78 600.15,27.97 600.37,29.15 600.61,30.32 600.86,31.50 601.11,32.67 601.38,33.84 601.64,35.01 601.91,36.18 602.18,37.35 602.47,38.51 602.76,39.68 603.07,40.84 603.40,41.99 603.74,43.14 604.10,44.28 604.48,45.42 604.86,46.56 605.27,47.69 605.68,48.82 606.10,49.94 606.53,51.06 606.98,52.17 607.44,53.28 607.92,54.38 608.42,55.47 608.94,56.55 609.47,57.63 610.02,58.69 610.59,59.75 611.18,60.80 611.79,61.83 612.43,62.84 613.10,63.84 613.79,64.82 614.50,65.78 615.24,66.73 615.99,67.67 616.75,68.60 617.52,69.52 618.30,70.43 619.08,71.33 619.88,72.23 620.69,73.12 621.50,74.00 622.32,74.88 623.14,75.76 623.95,76.64 624.76,77.53 625.57,78.41 626.37,79.30 627.19,80.19 628.00,81.07 628.82,81.95 629.64,82.82 630.46,83.69 631.29,84.56 632.13,85.42 632.97,86.27 633.83,87.11 634.70,87.94 635.58,88.75 636.47,89.56 637.36,90.36 638.26,91.16 639.17,91.94 640.08,92.72 641.01,93.48 641.94,94.24 642.88,94.98 643.83,95.71 644.79,96.44 645.75,97.16 646.71,97.88 647.67,98.60 648.64,99.30 649.63,99.97 650.65,100.59 651.71,101.15 652.79,101.68 653.88,102.19 654.97,102.68 656.07,103.15 657.18,103.61 658.29,104.07 659.41,104.51 660.53,104.94 661.65,105.36 662.78,105.76 663.91,106.16 665.05,106.56 666.18,106.95 667.32,107.33 668.45,107.71 669.59,108.09 670.73,108.47 671.87,108.85 673.01,109.24 674.14,109.62 675.28,110.00 676.42,110.39 677.55,110.78 678.69,111.16 679.83,111.54 680.97,111.92 682.11,112.29 683.25,112.64 684.40,112.99 685.56,113.33 686.71,113.65 687.87,113.97 689.03,114.27 690.19,114.57 691.35,114.86 692.52,115.15 693.68,115.45 694.85,115.74 696.01,116.03 697.17,116.32 698.34,116.61 699.50,116.90 700.67,117.19 701.83,117.48 703.00,117.76 704.17,118.05 705.33,118.33 706.50,118.61 707.67,118.89 708.83,119.17 710.00,119.44 711.17,119.72 712.34,119.99 713.51,120.26 714.67,120.53 715.84,120.80 717.01,121.07 718.18,121.33 719.36,121.59 720.53,121.85 721.70,122.10 722.88,122.35 724.05,122.59 725.23,122.82 726.41,123.05 727.59,123.27 728.77,123.49 729.95,123.70 731.13,123.91 732.31,124.12 733.49,124.32 734.68,124.52 735.86,124.72 737.04,124.91 738.23,125.10 739.41,125.30 740.60,125.48 741.78,125.67 742.97,125.85 744.16,126.03 745.35,126.20 746.53,126.37 747.72,126.55 748.91,126.72 750.09,126.89 751.28,127.07 752.47,127.25 753.65,127.43 754.84,127.62 756.02,127.81 757.19,128.01 758.32,128.21 759.40,128.40"/>
<path d="M596.40,-3.00L596.50,-1.80 596.61,-0.61 596.71,0.59 596.82,1.78 596.92,2.98 597.03,4.17 597.14,5.37 597.26,6.56 597.38,7.76 597.51,8.95 597.64,10.14 597.78,11.33 597.92,12.52 598.06,13.72 598.21,14.91 598.36,16.10 598.51,17.29 598.66,18.48 598.81,19.67 598.97,20.86 599.12,22.05 599.28,23.24 599.44,24.43 599.61,25.62 599.78,26.80 599.95,27.99 600.14,29.18 600.32,30.36 600.51,31.55 600.71,32.73 600.92,33.91 601.13,35.09 601.36,36.27 601.60,37.45 601.84,38.62 602.09,39.80 602.33,40.97 602.58,42.15 602.83,43.32 603.08,44.49 603.35,45.66 603.63,46.83 603.92,47.99 604.23,49.15 604.56,50.31 604.90,51.46 605.25,52.60 605.62,53.75 605.99,54.89 606.37,56.03 606.75,57.16 607.15,58.29 607.56,59.42 607.97,60.55 608.39,61.68 608.81,62.80 609.24,63.92 609.67,65.04 610.11,66.16 610.55,67.27 611.01,68.38 611.48,69.48 611.96,70.58 612.45,71.68 612.95,72.77 613.47,73.85 613.99,74.93 614.53,76.00 615.09,77.07 615.65,78.13 616.23,79.17 616.83,80.21 617.45,81.24 618.09,82.26 618.75,83.26 619.43,84.24 620.13,85.22 620.85,86.18 621.57,87.14 622.31,88.09 623.05,89.03 623.81,89.96 624.56,90.89 625.33,91.82 626.11,92.73 626.90,93.63 627.70,94.52 628.52,95.40 629.35,96.27 630.19,97.13 631.04,97.97 631.90,98.81 632.77,99.63 633.66,100.44 634.55,101.24 635.46,102.03 636.37,102.80 637.30,103.57 638.23,104.33 639.16,105.08 640.10,105.83 641.04,106.57 641.99,107.31 642.94,108.04 643.89,108.77 644.85,109.49 645.82,110.20 646.79,110.90 647.78,111.59 648.77,112.27 649.76,112.94 650.76,113.60 651.77,114.25 652.78,114.90 653.80,115.54 654.81,116.17 655.83,116.81 656.86,117.43 657.88,118.06 658.91,118.68 659.94,119.29 660.98,119.90 662.02,120.49 663.07,121.07 664.12,121.64 665.19,122.20 666.25,122.76 667.30,123.33 668.35,123.91 669.40,124.50 670.44,125.09 671.49,125.67 672.55,126.24 673.61,126.80 674.68,127.35 675.75,127.88 676.83,128.41 677.91,128.93 679.00,129.44 680.08,129.95 681.17,130.46 682.26,130.96 683.35,131.46 684.45,131.95 685.54,132.44 686.64,132.91 687.75,133.38 688.87,133.82 689.98,134.26 691.11,134.68 692.23,135.10 693.36,135.51 694.49,135.91 695.62,136.32 696.75,136.72 697.88,137.12 699.01,137.52 700.15,137.91 701.29,138.29 702.43,138.65 703.58,139.00 704.73,139.34 705.88,139.66 707.04,139.97 708.21,140.27 709.37,140.55 710.54,140.83 711.71,141.09 712.89,141.33 714.06,141.57 715.24,141.80 716.42,142.02 717.60,142.25 718.77,142.49 719.95,142.72 721.13,142.96 722.30,143.20 723.48,143.44 724.65,143.68 725.83,143.92 727.01,144.15 728.18,144.38 729.36,144.62 730.54,144.85 731.72,145.08 732.89,145.31 734.07,145.54 735.25,145.76 736.43,145.99 737.61,146.22 738.78,146.45 739.96,146.69 741.14,146.93 742.31,147.18 743.49,147.42 744.66,147.66 745.84,147.88 747.02,148.10 748.20,148.31 749.38,148.51 750.57,148.70 751.76,148.89 752.94,149.06 754.13,149.21 755.32,149.35 756.52,149.48 757.71,149.59 758.88,149.70 760.02,149.81 760.40,149.85" stroke-dasharray="3.6 4.3"/>
</g>
<path d="M670.10,40.80h34.9" stroke="#000" stroke-width="1.5"/>
<path d="M670.10,50.10h34.9" stroke="#000" stroke-width="1.5" stroke-dasharray="3.6 4.2"/>
<text transform="translate(711.10,43.40) scale(0.1,0.1)" font-size="75.0" fill="#1a1a1a" stroke="#1a1a1a" stroke-width="1.8"><tspan fill="#333" stroke="none" font-size="78">&#952;</tspan><tspan font-weight="bold">=90</tspan><tspan font-size="48" dy="-33" dx="3" font-weight="bold">0</tspan></text>
<text transform="translate(711.10,52.70) scale(0.1,0.1)" font-size="75.0" fill="#1a1a1a" stroke="#1a1a1a" stroke-width="1.8"><tspan fill="#333" stroke="none" font-size="78">&#952;</tspan><tspan font-weight="bold">=171</tspan><tspan font-size="48" dy="-33" dx="3" font-weight="bold">0</tspan></text>
<text transform="translate(677.90,164.80) scale(0.1,0.1)" text-anchor="middle" font-size="70.0" font-weight="bold" fill="#111" stroke="#111" stroke-width="1.2">Heliocentric Distance (r/Rs)</text>
<text transform="translate(581.00,75.40) rotate(-90) scale(0.1,0.1)" text-anchor="middle" font-size="70.7" font-weight="bold" fill="#111" stroke="#111" stroke-width="0.5">Number Density</text>
<text transform="translate(681.40,179.60) scale(0.095,0.1)" text-anchor="middle" font-size="148.0" class="serif" fill="#222">(d1)</text>
<clipPath id="c01"><rect x="20.40" y="191.60" width="163.60" height="149.90"/></clipPath>
<text transform="translate(17.70,343.50) scale(0.086,0.1)" text-anchor="end" font-size="64.0" fill="#111" stroke="#111" stroke-width="0.8">0</text>
<text transform="translate(17.70,322.28) scale(0.086,0.1)" text-anchor="end" font-size="64.0" fill="#111" stroke="#111" stroke-width="0.8">100</text>
<text transform="translate(17.70,301.06) scale(0.086,0.1)" text-anchor="end" font-size="64.0" fill="#111" stroke="#111" stroke-width="0.8">200</text>
<text transform="translate(17.70,279.84) scale(0.086,0.1)" text-anchor="end" font-size="64.0" fill="#111" stroke="#111" stroke-width="0.8">300</text>
<text transform="translate(17.70,258.62) scale(0.086,0.1)" text-anchor="end" font-size="64.0" fill="#111" stroke="#111" stroke-width="0.8">400</text>
<text transform="translate(17.70,237.40) scale(0.086,0.1)" text-anchor="end" font-size="64.0" fill="#111" stroke="#111" stroke-width="0.8">500</text>
<text transform="translate(17.70,216.18) scale(0.086,0.1)" text-anchor="end" font-size="64.0" fill="#111" stroke="#111" stroke-width="0.8">600</text>
<text transform="translate(17.70,194.96) scale(0.086,0.1)" text-anchor="end" font-size="64.0" fill="#111" stroke="#111" stroke-width="0.8">700</text>
<text transform="translate(55.42,347.20) scale(0.1,0.1)" text-anchor="middle" font-size="58.0" fill="#111" stroke="#111" stroke-width="0.8">5</text>
<text transform="translate(98.70,347.20) scale(0.1,0.1)" text-anchor="middle" font-size="58.0" fill="#111" stroke="#111" stroke-width="0.8">10</text>
<text transform="translate(141.99,347.20) scale(0.1,0.1)" text-anchor="middle" font-size="58.0" fill="#111" stroke="#111" stroke-width="0.8">15</text>
<path d="M20.40,341.20h3.60M20.40,319.98h3.60M20.40,298.76h3.60M20.40,277.54h3.60M20.40,256.32h3.60M20.40,235.10h3.60M20.40,213.88h3.60M20.40,192.66h3.60M55.02,341.50v-3.40M98.30,341.50v-3.40M141.59,341.50v-3.40" stroke="#2a2a2a" stroke-width="1" fill="none"/>
<path d="M20.40,336.96h2.40M20.40,332.71h2.40M20.40,328.47h2.40M20.40,324.22h2.40M20.40,315.74h2.40M20.40,311.49h2.40M20.40,307.25h2.40M20.40,303.00h2.40M20.40,294.52h2.40M20.40,290.27h2.40M20.40,286.03h2.40M20.40,281.78h2.40M20.40,273.30h2.40M20.40,269.05h2.40M20.40,264.81h2.40M20.40,260.56h2.40M20.40,252.08h2.40M20.40,247.83h2.40M20.40,243.59h2.40M20.40,239.34h2.40M20.40,230.86h2.40M20.40,226.61h2.40M20.40,222.37h2.40M20.40,218.12h2.40M20.40,209.64h2.40M20.40,205.39h2.40M20.40,201.15h2.40M20.40,196.90h2.40M29.06,341.50v-2.60M37.71,341.50v-2.60M46.37,341.50v-2.60M63.68,341.50v-2.60M72.34,341.50v-2.60M80.99,341.50v-2.60M89.65,341.50v-2.60M106.96,341.50v-2.60M115.62,341.50v-2.60M124.27,341.50v-2.60M132.93,341.50v-2.60M150.24,341.50v-2.60M158.90,341.50v-2.60M167.55,341.50v-2.60M176.21,341.50v-2.60" stroke="#555" stroke-width="0.8" fill="none"/>
<rect x="20.40" y="192.10" width="163.60" height="149.40" fill="none" stroke="#2a2a2a" stroke-width="1"/>
<g clip-path="url(#c01)" fill="none" stroke="#000" stroke-width="1.7">
<path d="M20.40,341.20L20.97,341.11 21.56,341.03 22.15,340.97 22.75,340.93 23.35,340.89 23.96,340.87 24.58,340.84 25.19,340.82 25.80,340.80 26.42,340.77 27.03,340.73 27.63,340.68 28.24,340.62 28.83,340.54 29.42,340.44 30.00,340.31 30.58,340.16 31.14,339.98 31.69,339.78 32.23,339.56 32.77,339.32 33.29,339.05 33.81,338.77 34.32,338.48 34.83,338.16 35.32,337.84 35.81,337.50 36.30,337.15 36.77,336.80 37.24,336.43 37.71,336.06 38.17,335.67 38.62,335.29 39.07,334.89 39.52,334.49 39.96,334.08 40.40,333.67 40.84,333.25 41.27,332.83 41.70,332.41 42.13,331.98 42.55,331.55 42.98,331.12 43.40,330.69 43.82,330.25 44.24,329.82 44.66,329.38 45.08,328.95 45.50,328.51 45.92,328.08 46.35,327.65 46.77,327.22 47.19,326.79 47.61,326.37 48.04,325.94 48.46,325.52 48.88,325.10 49.31,324.67 49.74,324.26 50.17,323.84 50.60,323.42 51.03,323.01 51.46,322.60 51.90,322.19 52.33,321.78 52.77,321.38 53.21,320.97 53.66,320.57 54.10,320.18 54.55,319.78 55.00,319.39 55.45,319.00 55.90,318.61 56.36,318.22 56.82,317.84 57.28,317.46 57.75,317.09 58.22,316.71 58.69,316.34 59.16,315.97 59.64,315.61 60.11,315.25 60.59,314.89 61.08,314.53 61.56,314.17 62.05,313.82 62.54,313.47 63.03,313.13 63.53,312.79 64.02,312.45 64.52,312.11 65.02,311.77 65.52,311.44 66.03,311.11 66.53,310.78 67.04,310.46 67.55,310.13 68.06,309.81 68.57,309.50 69.08,309.18 69.60,308.87 70.11,308.56 70.63,308.25 71.15,307.94 71.66,307.64 72.18,307.34 72.71,307.04 73.23,306.75 73.75,306.45 74.28,306.16 74.80,305.87 75.33,305.59 75.86,305.30 76.39,305.02 76.92,304.74 77.45,304.46 77.98,304.19 78.51,303.91 79.05,303.64 79.58,303.37 80.12,303.11 80.65,302.84 81.19,302.58 81.73,302.32 82.27,302.06 82.81,301.81 83.35,301.55 83.90,301.30 84.44,301.05 84.99,300.80 85.53,300.56 86.08,300.32 86.63,300.07 87.18,299.83 87.72,299.60 88.27,299.36 88.83,299.13 89.38,298.90 89.93,298.67 90.48,298.44 91.04,298.21 91.59,297.99 92.15,297.77 92.71,297.55 93.26,297.33 93.82,297.11 94.38,296.90 94.94,296.69 95.50,296.47 96.06,296.27 96.62,296.06 97.19,295.85 97.75,295.65 98.31,295.45 98.88,295.25 99.44,295.05 100.01,294.85 100.58,294.65 101.14,294.46 101.71,294.27 102.28,294.08 102.85,293.89 103.42,293.70 103.99,293.52 104.56,293.33 105.13,293.15 105.70,292.97 106.28,292.79 106.85,292.61 107.42,292.44 108.00,292.26 108.57,292.09 109.15,291.92 109.72,291.75 110.30,291.58 110.88,291.41 111.45,291.24 112.03,291.08 112.61,290.92 113.19,290.75 113.77,290.59 114.34,290.44 114.92,290.28 115.50,290.12 116.08,289.97 116.67,289.81 117.25,289.66 117.83,289.51 118.41,289.36 118.99,289.21 119.57,289.06 120.16,288.92 120.74,288.77 121.32,288.63 121.91,288.49 122.49,288.34 123.07,288.20 123.66,288.06 124.24,287.93 124.83,287.79 125.41,287.65 126.00,287.52 126.58,287.39 127.17,287.25 127.76,287.12 128.34,286.99 128.93,286.86 129.51,286.73 130.10,286.61 130.69,286.48 131.27,286.35 131.86,286.23 132.45,286.11 133.04,285.98 133.62,285.86 134.21,285.74 134.80,285.62 135.39,285.50 135.97,285.39 136.56,285.27 137.15,285.15 137.74,285.04 138.33,284.92 138.92,284.81 139.51,284.70 140.10,284.59 140.68,284.48 141.27,284.37 141.86,284.26 142.45,284.15 143.04,284.04 143.63,283.94 144.22,283.83 144.81,283.72 145.40,283.62 145.99,283.52 146.58,283.42 147.18,283.31 147.77,283.21 148.36,283.11 148.95,283.01 149.54,282.91 150.13,282.82 150.72,282.72 151.31,282.62 151.90,282.53 152.50,282.43 153.09,282.34 153.68,282.24 154.27,282.15 154.86,282.06 155.46,281.97 156.05,281.88 156.64,281.79 157.24,281.70 157.83,281.61 158.42,281.52 159.01,281.43 159.61,281.34 160.20,281.26 160.79,281.17 161.39,281.09 161.98,281.00 162.57,280.92 163.17,280.83 163.76,280.75 164.36,280.67 164.95,280.59 165.54,280.51 166.14,280.42 166.73,280.34 167.33,280.26 167.92,280.18 168.52,280.11 169.11,280.03 169.70,279.95 170.30,279.87 170.89,279.79 171.49,279.72 172.08,279.64 172.68,279.57 173.27,279.49 173.87,279.42 174.46,279.34 175.06,279.27 175.66,279.19 176.25,279.12 176.85,279.05 177.44,278.97 178.04,278.90 178.63,278.83 179.23,278.76 179.83,278.69 180.42,278.62 181.02,278.55 181.61,278.48 182.21,278.41 182.81,278.34 183.40,278.27 184.00,278.20"/>
<path d="M20.41,341.21L20.79,340.74 21.17,340.28 21.55,339.81 21.92,339.34 22.29,338.87 22.65,338.39 23.02,337.92 23.38,337.44 23.73,336.96 24.09,336.48 24.44,336.00 24.78,335.52 25.13,335.03 25.47,334.55 25.81,334.06 26.14,333.57 26.47,333.08 26.80,332.59 27.13,332.09 27.46,331.60 27.78,331.10 28.10,330.60 28.41,330.10 28.73,329.60 29.04,329.10 29.35,328.59 29.66,328.09 29.96,327.58 30.26,327.07 30.57,326.56 30.86,326.05 31.16,325.54 31.45,325.03 31.74,324.52 32.03,324.00 32.32,323.48 32.61,322.97 32.89,322.45 33.17,321.93 33.45,321.41 33.73,320.89 34.01,320.36 34.28,319.84 34.56,319.32 34.83,318.79 35.10,318.26 35.36,317.74 35.63,317.21 35.90,316.68 36.16,316.15 36.42,315.62 36.68,315.09 36.94,314.55 37.20,314.02 37.46,313.49 37.72,312.95 37.97,312.41 38.23,311.88 38.48,311.34 38.73,310.80 38.98,310.26 39.23,309.73 39.48,309.19 39.73,308.65 39.98,308.10 40.22,307.56 40.47,307.02 40.71,306.48 40.96,305.94 41.20,305.39 41.45,304.85 41.69,304.30 41.93,303.76 42.17,303.21 42.42,302.67 42.66,302.12 42.90,301.58 43.14,301.03 43.38,300.48 43.62,299.93 43.86,299.39 44.10,298.84 44.34,298.29 44.58,297.74 44.82,297.19 45.06,296.64 45.30,296.10 45.54,295.55 45.78,295.00 46.02,294.45 46.26,293.90 46.50,293.35 46.75,292.80 46.99,292.25 47.23,291.70 47.47,291.15 47.72,290.60 47.96,290.05 48.21,289.50 48.45,288.96 48.70,288.41 48.94,287.86 49.19,287.31 49.44,286.76 49.69,286.21 49.94,285.66 50.19,285.12 50.44,284.57 50.70,284.02 50.95,283.47 51.20,282.93 51.46,282.38 51.72,281.83 51.97,281.29 52.23,280.74 52.49,280.20 52.75,279.65 53.02,279.11 53.28,278.56 53.54,278.02 53.81,277.48 54.07,276.94 54.34,276.39 54.61,275.85 54.88,275.31 55.15,274.77 55.42,274.23 55.70,273.69 55.97,273.15 56.25,272.61 56.52,272.08 56.80,271.54 57.08,271.00 57.36,270.47 57.64,269.93 57.92,269.40 58.21,268.86 58.49,268.33 58.78,267.80 59.06,267.27 59.35,266.73 59.64,266.20 59.94,265.67 60.23,265.15 60.52,264.62 60.82,264.09 61.11,263.57 61.41,263.04 61.71,262.52 62.01,261.99 62.31,261.47 62.62,260.95 62.92,260.43 63.23,259.91 63.54,259.39 63.85,258.87 64.16,258.35 64.47,257.84 64.78,257.32 65.10,256.81 65.41,256.30 65.73,255.79 66.05,255.28 66.37,254.77 66.69,254.26 67.02,253.75 67.34,253.24 67.67,252.74 68.00,252.24 68.33,251.73 68.66,251.23 68.99,250.73 69.33,250.23 69.67,249.74 70.00,249.24 70.34,248.75 70.69,248.25 71.03,247.76 71.37,247.27 71.72,246.78 72.07,246.29 72.42,245.80 72.77,245.32 73.12,244.83 73.48,244.35 73.83,243.87 74.19,243.39 74.55,242.91 74.92,242.44 75.28,241.96 75.64,241.49 76.01,241.02 76.38,240.54 76.75,240.08 77.12,239.61 77.50,239.14 77.88,238.68 78.25,238.22 78.63,237.75 79.02,237.29 79.40,236.84 79.78,236.38 80.17,235.93 80.56,235.47 80.95,235.02 81.35,234.57 81.74,234.13 82.14,233.68 82.54,233.24 82.94,232.80 83.34,232.36 83.75,231.92 84.16,231.48 84.56,231.05 84.98,230.61 85.39,230.18 85.80,229.75 86.22,229.33 86.64,228.90 87.06,228.48 87.48,228.06 87.91,227.64 88.34,227.22 88.77,226.81 89.20,226.39 89.63,225.98 90.06,225.57 90.50,225.17 90.94,224.76 91.38,224.36 91.82,223.96 92.26,223.56 92.71,223.16 93.16,222.76 93.61,222.37 94.06,221.98 94.51,221.59 94.97,221.20 95.42,220.82 95.88,220.44 96.34,220.06 96.80,219.68 97.27,219.30 97.73,218.93 98.20,218.55 98.67,218.18 99.14,217.82 99.61,217.45 100.08,217.09 100.56,216.73 101.03,216.37 101.51,216.01 101.99,215.66 102.48,215.30 102.96,214.95 103.44,214.60 103.93,214.26 104.42,213.92 104.91,213.57 105.40,213.24 105.89,212.90 106.39,212.56 106.88,212.23 107.38,211.90 107.88,211.57 108.38,211.25 108.88,210.93 109.38,210.61 109.89,210.29 110.40,209.97 110.90,209.66 111.41,209.35 111.92,209.04 112.44,208.73 112.95,208.43 113.46,208.13 113.98,207.83 114.50,207.53 115.02,207.24 115.54,206.94 116.06,206.65 116.58,206.37 117.11,206.08 117.63,205.80 118.16,205.52 118.69,205.24 119.22,204.97 119.75,204.70 120.28,204.43 120.81,204.16 121.35,203.90 121.88,203.63 122.42,203.37 122.96,203.12 123.50,202.86 124.04,202.61 124.58,202.36 125.12,202.11 125.67,201.87 126.21,201.63 126.76,201.39 127.31,201.15 127.85,200.92 128.40,200.69 128.96,200.46 129.51,200.24 130.06,200.01 130.61,199.79 131.17,199.57 131.73,199.36 132.28,199.15 132.84,198.94 133.40,198.73 133.96,198.53 134.52,198.33 135.08,198.13 135.65,197.93 136.21,197.74 136.78,197.55 137.34,197.36 137.91,197.17 138.48,196.99 139.05,196.81 139.62,196.64 140.19,196.46 140.76,196.29 141.33,196.12 141.91,195.96 142.48,195.80 143.06,195.64 143.63,195.48 144.21,195.33 144.79,195.18 145.36,195.03 145.94,194.88 146.52,194.74 147.10,194.60 147.69,194.47 148.27,194.33 148.85,194.20 149.43,194.07 150.02,193.95 150.60,193.83 151.19,193.71 151.78,193.59 152.36,193.48 152.95,193.37 153.54,193.27 154.13,193.16 154.72,193.06 155.31,192.96 155.90,192.87 156.49,192.78 157.09,192.69 157.68,192.60 158.27,192.52 158.87,192.44 159.46,192.37 160.06,192.29 160.65,192.22 161.25,192.16 161.84,192.09 162.44,192.03 163.04,191.98 163.64,191.92 164.24,191.87 164.84,191.82 165.44,191.78 166.04,191.74 166.64,191.70 167.24,191.66 167.84,191.63 168.44,191.60 169.04,191.58 169.65,191.56 170.25,191.54 170.85,191.52 171.46,191.51 172.06,191.50 172.67,191.49 173.27,191.49 173.88,191.49 174.48,191.49 175.09,191.50 175.69,191.51 176.30,191.53 176.91,191.54 177.51,191.56 178.12,191.59 178.73,191.62 179.34,191.65 179.94,191.68 180.55,191.72 181.16,191.76 181.77,191.80 182.38,191.85 182.99,191.90 183.59,191.96 184.20,192.01" stroke-dasharray="3.6 4.3"/>
</g>
<path d="M104.30,245.80h34.9" stroke="#000" stroke-width="1.5"/>
<path d="M104.30,255.30h34.9" stroke="#000" stroke-width="1.5" stroke-dasharray="3.6 4.2"/>
<text transform="translate(145.00,248.40) scale(0.1,0.1)" font-size="75.0" fill="#1a1a1a" stroke="#1a1a1a" stroke-width="1.8"><tspan fill="#333" stroke="none" font-size="78">&#952;</tspan><tspan font-weight="bold">=66</tspan><tspan font-size="48" dy="-33" dx="3" font-weight="bold">0</tspan></text>
<text transform="translate(145.00,257.90) scale(0.1,0.1)" font-size="75.0" fill="#1a1a1a" stroke="#1a1a1a" stroke-width="1.8"><tspan fill="#333" stroke="none" font-size="78">&#952;</tspan><tspan font-weight="bold">=180</tspan><tspan font-size="48" dy="-33" dx="3" font-weight="bold">0</tspan></text>
<text transform="translate(102.20,356.20) scale(0.1,0.1)" text-anchor="middle" font-size="70.0" font-weight="bold" fill="#111" stroke="#111" stroke-width="1.2">Heliocentric Distance (r/Rs)</text>
<text transform="translate(5.50,267.00) rotate(-90) scale(0.1,0.1)" text-anchor="middle" font-size="70.6" font-weight="bold" fill="#111" stroke="#111" stroke-width="0.5">Radial Velocity</text>
<text transform="translate(97.10,370.80) scale(0.095,0.1)" text-anchor="middle" font-size="148.0" class="serif" fill="#222">(a2)</text>
<clipPath id="c11"><rect x="212.50" y="191.60" width="163.50" height="149.90"/></clipPath>
<text transform="translate(209.80,322.28) scale(0.086,0.1)" text-anchor="end" font-size="64.0" fill="#111" stroke="#111" stroke-width="0.8">100</text>
<text transform="translate(209.80,301.06) scale(0.086,0.1)" text-anchor="end" font-size="64.0" fill="#111" stroke="#111" stroke-width="0.8">200</text>
<text transform="translate(209.80,279.84) scale(0.086,0.1)" text-anchor="end" font-size="64.0" fill="#111" stroke="#111" stroke-width="0.8">300</text>
<text transform="translate(209.80,258.62) scale(0.086,0.1)" text-anchor="end" font-size="64.0" fill="#111" stroke="#111" stroke-width="0.8">400</text>
<text transform="translate(209.80,237.40) scale(0.086,0.1)" text-anchor="end" font-size="64.0" fill="#111" stroke="#111" stroke-width="0.8">500</text>
<text transform="translate(209.80,216.18) scale(0.086,0.1)" text-anchor="end" font-size="64.0" fill="#111" stroke="#111" stroke-width="0.8">600</text>
<text transform="translate(209.80,194.96) scale(0.086,0.1)" text-anchor="end" font-size="64.0" fill="#111" stroke="#111" stroke-width="0.8">700</text>
<text transform="translate(247.50,347.20) scale(0.1,0.1)" text-anchor="middle" font-size="58.0" fill="#111" stroke="#111" stroke-width="0.8">5</text>
<text transform="translate(290.76,347.20) scale(0.1,0.1)" text-anchor="middle" font-size="58.0" fill="#111" stroke="#111" stroke-width="0.8">10</text>
<text transform="translate(334.01,347.20) scale(0.1,0.1)" text-anchor="middle" font-size="58.0" fill="#111" stroke="#111" stroke-width="0.8">15</text>
<path d="M212.50,341.20h3.60M212.50,319.98h3.60M212.50,298.76h3.60M212.50,277.54h3.60M212.50,256.32h3.60M212.50,235.10h3.60M212.50,213.88h3.60M212.50,192.66h3.60M247.10,341.50v-3.40M290.36,341.50v-3.40M333.61,341.50v-3.40" stroke="#2a2a2a" stroke-width="1" fill="none"/>
<path d="M212.50,336.96h2.40M212.50,332.71h2.40M212.50,328.47h2.40M212.50,324.22h2.40M212.50,315.74h2.40M212.50,311.49h2.40M212.50,307.25h2.40M212.50,303.00h2.40M212.50,294.52h2.40M212.50,290.27h2.40M212.50,286.03h2.40M212.50,281.78h2.40M212.50,273.30h2.40M212.50,269.05h2.40M212.50,264.81h2.40M212.50,260.56h2.40M212.50,252.08h2.40M212.50,247.83h2.40M212.50,243.59h2.40M212.50,239.34h2.40M212.50,230.86h2.40M212.50,226.61h2.40M212.50,222.37h2.40M212.50,218.12h2.40M212.50,209.64h2.40M212.50,205.39h2.40M212.50,201.15h2.40M212.50,196.90h2.40M221.15,341.50v-2.60M229.80,341.50v-2.60M238.45,341.50v-2.60M255.75,341.50v-2.60M264.40,341.50v-2.60M273.06,341.50v-2.60M281.71,341.50v-2.60M299.01,341.50v-2.60M307.66,341.50v-2.60M316.31,341.50v-2.60M324.96,341.50v-2.60M342.26,341.50v-2.60M350.91,341.50v-2.60M359.56,341.50v-2.60M368.21,341.50v-2.60" stroke="#555" stroke-width="0.8" fill="none"/>
<rect x="212.50" y="192.10" width="163.50" height="149.40" fill="none" stroke="#2a2a2a" stroke-width="1"/>
<g clip-path="url(#c11)" fill="none" stroke="#000" stroke-width="1.7">
<path d="M212.50,341.00L213.09,340.88 213.68,340.78 214.29,340.70 214.90,340.62 215.50,340.54 216.10,340.44 216.68,340.30 217.24,340.13 217.79,339.91 218.31,339.64 218.81,339.33 219.29,338.99 219.76,338.62 220.23,338.25 220.70,337.86 221.17,337.48 221.64,337.11 222.12,336.74 222.59,336.37 223.07,336.01 223.56,335.65 224.04,335.29 224.52,334.94 225.01,334.59 225.50,334.25 225.99,333.90 226.48,333.56 226.98,333.22 227.47,332.89 227.97,332.56 228.47,332.22 228.97,331.89 229.46,331.57 229.97,331.24 230.47,330.92 230.97,330.59 231.47,330.27 231.98,329.95 232.48,329.63 232.99,329.31 233.49,328.99 234.00,328.67 234.50,328.35 235.01,328.03 235.51,327.71 236.02,327.39 236.52,327.07 237.03,326.75 237.53,326.43 238.04,326.11 238.55,325.80 239.05,325.48 239.56,325.16 240.07,324.84 240.58,324.53 241.09,324.21 241.60,323.90 242.11,323.59 242.62,323.28 243.13,322.96 243.64,322.66 244.15,322.35 244.67,322.04 245.18,321.73 245.69,321.43 246.21,321.13 246.73,320.83 247.25,320.53 247.76,320.23 248.28,319.93 248.81,319.64 249.33,319.35 249.85,319.06 250.38,318.77 250.90,318.48 251.43,318.20 251.96,317.92 252.49,317.64 253.02,317.36 253.55,317.09 254.09,316.82 254.62,316.55 255.16,316.28 255.69,316.01 256.23,315.75 256.77,315.49 257.31,315.23 257.85,314.97 258.39,314.71 258.93,314.46 259.48,314.21 260.02,313.95 260.57,313.71 261.11,313.46 261.66,313.21 262.21,312.97 262.76,312.73 263.31,312.49 263.86,312.25 264.41,312.01 264.96,311.78 265.51,311.55 266.06,311.31 266.61,311.08 267.17,310.85 267.72,310.63 268.28,310.40 268.83,310.18 269.39,309.96 269.95,309.74 270.50,309.52 271.06,309.30 271.62,309.08 272.18,308.87 272.74,308.66 273.30,308.45 273.86,308.24 274.42,308.03 274.98,307.82 275.54,307.62 276.11,307.42 276.67,307.22 277.23,307.02 277.80,306.82 278.36,306.62 278.93,306.43 279.49,306.23 280.06,306.04 280.63,305.85 281.19,305.66 281.76,305.47 282.33,305.29 282.90,305.11 283.47,304.92 284.04,304.74 284.61,304.56 285.18,304.39 285.75,304.21 286.32,304.04 286.90,303.86 287.47,303.69 288.04,303.52 288.62,303.35 289.19,303.19 289.76,303.02 290.34,302.86 290.92,302.70 291.49,302.54 292.07,302.38 292.64,302.22 293.22,302.07 293.80,301.91 294.38,301.76 294.96,301.61 295.54,301.46 296.12,301.31 296.70,301.17 297.28,301.02 297.86,300.88 298.44,300.74 299.02,300.60 299.60,300.46 300.18,300.33 300.77,300.19 301.35,300.06 301.93,299.92 302.52,299.79 303.10,299.66 303.69,299.53 304.27,299.41 304.86,299.28 305.44,299.15 306.03,299.03 306.61,298.91 307.20,298.78 307.78,298.66 308.37,298.54 308.96,298.42 309.55,298.30 310.13,298.18 310.72,298.07 311.31,297.95 311.89,297.83 312.48,297.72 313.07,297.60 313.66,297.49 314.25,297.37 314.84,297.26 315.42,297.15 316.01,297.04 316.60,296.92 317.19,296.81 317.78,296.70 318.37,296.59 318.96,296.48 319.55,296.36 320.13,296.25 320.72,296.14 321.31,296.03 321.90,295.92 322.49,295.81 323.08,295.70 323.67,295.59 324.26,295.47 324.84,295.36 325.43,295.25 326.02,295.14 326.61,295.03 327.20,294.91 327.79,294.80 328.37,294.69 328.96,294.58 329.55,294.46 330.14,294.35 330.73,294.24 331.31,294.12 331.90,294.01 332.49,293.90 333.08,293.79 333.67,293.67 334.25,293.56 334.84,293.45 335.43,293.34 336.02,293.23 336.61,293.11 337.20,293.00 337.78,292.89 338.37,292.78 338.96,292.67 339.55,292.56 340.14,292.45 340.72,292.35 341.31,292.24 341.90,292.13 342.49,292.02 343.08,291.92 343.67,291.81 344.26,291.70 344.84,291.60 345.43,291.50 346.02,291.39 346.61,291.29 347.20,291.19 347.79,291.09 348.38,290.98 348.97,290.89 349.56,290.79 350.15,290.69 350.74,290.59 351.33,290.49 351.92,290.40 352.51,290.30 353.10,290.21 353.69,290.12 354.28,290.03 354.87,289.94 355.46,289.85 356.05,289.76 356.65,289.67 357.24,289.59 357.83,289.50 358.42,289.42 359.01,289.34 359.61,289.26 360.20,289.18 360.79,289.10 361.39,289.02 361.98,288.94 362.57,288.87 363.17,288.80 363.76,288.73 364.36,288.66 364.95,288.59 365.54,288.52 366.14,288.45 366.73,288.39 367.33,288.33 367.93,288.27 368.52,288.21 369.12,288.15 369.72,288.10 370.31,288.04 370.91,287.99 371.51,287.94 372.11,287.89 372.70,287.84 373.30,287.80 373.90,287.75 374.50,287.71 375.10,287.67 375.70,287.64 376.30,287.60"/>
<path d="M212.51,341.21L212.85,340.72 213.19,340.24 213.53,339.75 213.87,339.26 214.20,338.77 214.53,338.28 214.86,337.78 215.19,337.29 215.51,336.79 215.83,336.29 216.15,335.79 216.47,335.29 216.79,334.79 217.10,334.29 217.41,333.79 217.72,333.28 218.03,332.78 218.33,332.27 218.64,331.76 218.94,331.25 219.24,330.74 219.54,330.23 219.83,329.72 220.13,329.20 220.42,328.69 220.71,328.17 221.00,327.65 221.29,327.14 221.58,326.62 221.86,326.10 222.14,325.58 222.43,325.05 222.71,324.53 222.99,324.01 223.26,323.48 223.54,322.96 223.82,322.43 224.09,321.91 224.36,321.38 224.63,320.85 224.90,320.32 225.17,319.79 225.44,319.26 225.71,318.73 225.98,318.20 226.24,317.67 226.51,317.13 226.77,316.60 227.03,316.06 227.30,315.53 227.56,314.99 227.82,314.46 228.08,313.92 228.34,313.38 228.60,312.85 228.85,312.31 229.11,311.77 229.37,311.23 229.62,310.69 229.88,310.15 230.14,309.61 230.39,309.07 230.65,308.53 230.90,307.99 231.16,307.45 231.41,306.91 231.66,306.36 231.92,305.82 232.17,305.28 232.43,304.74 232.68,304.19 232.93,303.65 233.19,303.11 233.44,302.56 233.69,302.02 233.95,301.48 234.20,300.93 234.46,300.39 234.71,299.85 234.96,299.30 235.22,298.76 235.47,298.21 235.73,297.67 235.99,297.13 236.24,296.58 236.50,296.04 236.75,295.49 237.01,294.95 237.27,294.41 237.53,293.86 237.78,293.32 238.04,292.78 238.30,292.23 238.56,291.69 238.82,291.15 239.08,290.60 239.34,290.06 239.60,289.52 239.86,288.98 240.12,288.43 240.38,287.89 240.65,287.35 240.91,286.81 241.17,286.27 241.44,285.73 241.70,285.19 241.97,284.65 242.24,284.11 242.50,283.57 242.77,283.03 243.04,282.49 243.31,281.95 243.58,281.41 243.85,280.87 244.12,280.34 244.39,279.80 244.66,279.26 244.94,278.73 245.21,278.19 245.48,277.66 245.76,277.12 246.04,276.59 246.31,276.05 246.59,275.52 246.87,274.99 247.15,274.46 247.43,273.92 247.71,273.39 247.99,272.86 248.28,272.33 248.56,271.80 248.85,271.27 249.13,270.75 249.42,270.22 249.71,269.69 250.00,269.17 250.29,268.64 250.58,268.12 250.87,267.59 251.16,267.07 251.46,266.55 251.75,266.03 252.05,265.50 252.35,264.98 252.65,264.47 252.95,263.95 253.25,263.43 253.55,262.91 253.85,262.40 254.16,261.88 254.47,261.37 254.77,260.85 255.08,260.34 255.39,259.83 255.70,259.32 256.01,258.81 256.33,258.30 256.64,257.79 256.96,257.28 257.28,256.78 257.60,256.27 257.92,255.77 258.24,255.27 258.56,254.76 258.89,254.26 259.21,253.76 259.54,253.26 259.87,252.77 260.20,252.27 260.53,251.78 260.87,251.28 261.20,250.79 261.54,250.30 261.88,249.80 262.22,249.32 262.56,248.83 262.90,248.34 263.25,247.85 263.59,247.37 263.94,246.88 264.29,246.40 264.64,245.92 264.99,245.44 265.35,244.96 265.70,244.49 266.06,244.01 266.42,243.54 266.78,243.06 267.15,242.59 267.51,242.12 267.88,241.65 268.25,241.18 268.62,240.72 268.99,240.25 269.37,239.79 269.74,239.33 270.12,238.87 270.50,238.41 270.88,237.95 271.27,237.49 271.65,237.04 272.04,236.58 272.43,236.13 272.82,235.68 273.21,235.23 273.61,234.79 274.01,234.34 274.41,233.90 274.81,233.46 275.21,233.02 275.62,232.58 276.03,232.14 276.43,231.71 276.85,231.27 277.26,230.84 277.67,230.41 278.09,229.98 278.51,229.55 278.93,229.13 279.35,228.71 279.78,228.29 280.20,227.87 280.63,227.45 281.06,227.03 281.49,226.62 281.93,226.21 282.36,225.80 282.80,225.39 283.24,224.98 283.68,224.58 284.12,224.18 284.57,223.78 285.02,223.38 285.46,222.98 285.91,222.59 286.37,222.20 286.82,221.81 287.27,221.42 287.73,221.04 288.19,220.65 288.65,220.27 289.11,219.89 289.58,219.52 290.04,219.14 290.51,218.77 290.98,218.40 291.45,218.03 291.92,217.67 292.40,217.30 292.87,216.94 293.35,216.58 293.83,216.23 294.31,215.87 294.79,215.52 295.28,215.17 295.76,214.83 296.25,214.48 296.74,214.14 297.23,213.80 297.72,213.46 298.22,213.13 298.71,212.80 299.21,212.47 299.71,212.14 300.21,211.82 300.71,211.49 301.22,211.18 301.72,210.86 302.23,210.54 302.74,210.23 303.25,209.92 303.76,209.62 304.27,209.32 304.78,209.01 305.30,208.72 305.82,208.42 306.34,208.13 306.86,207.84 307.38,207.55 307.90,207.27 308.43,206.99 308.95,206.71 309.48,206.43 310.01,206.16 310.54,205.89 311.07,205.62 311.61,205.36 312.14,205.10 312.68,204.84 313.22,204.59 313.76,204.33 314.30,204.09 314.84,203.84 315.38,203.60 315.93,203.36 316.47,203.12 317.02,202.88 317.57,202.65 318.12,202.42 318.67,202.20 319.22,201.98 319.78,201.76 320.33,201.54 320.89,201.33 321.44,201.11 322.00,200.91 322.56,200.70 323.12,200.50 323.69,200.30 324.25,200.10 324.81,199.91 325.38,199.71 325.94,199.52 326.51,199.34 327.08,199.15 327.65,198.97 328.22,198.80 328.79,198.62 329.36,198.45 329.94,198.28 330.51,198.11 331.09,197.94 331.66,197.78 332.24,197.62 332.82,197.47 333.40,197.31 333.97,197.16 334.55,197.01 335.14,196.86 335.72,196.72 336.30,196.58 336.88,196.44 337.47,196.30 338.05,196.17 338.64,196.03 339.22,195.90 339.81,195.78 340.40,195.65 340.99,195.53 341.57,195.41 342.16,195.29 342.75,195.18 343.34,195.07 343.93,194.96 344.53,194.85 345.12,194.74 345.71,194.64 346.30,194.54 346.90,194.44 347.49,194.35 348.08,194.25 348.68,194.16 349.27,194.07 349.87,193.99 350.47,193.90 351.06,193.82 351.66,193.74 352.26,193.66 352.85,193.58 353.45,193.51 354.05,193.44 354.65,193.37 355.24,193.30 355.84,193.24 356.44,193.17 357.04,193.11 357.64,193.05 358.24,193.00 358.84,192.94 359.44,192.89 360.04,192.84 360.64,192.79 361.24,192.74 361.83,192.70 362.43,192.66 363.03,192.62 363.63,192.58 364.23,192.54 364.83,192.51 365.43,192.47 366.03,192.44 366.63,192.41 367.23,192.39 367.83,192.36 368.43,192.34 369.03,192.32 369.63,192.30 370.23,192.28 370.83,192.27 371.42,192.25 372.02,192.24 372.62,192.23 373.22,192.22 373.81,192.21 374.41,192.21 375.01,192.21 375.60,192.20 376.20,192.20" stroke-dasharray="3.6 4.3"/>
</g>
<path d="M297.10,249.50h34.9" stroke="#000" stroke-width="1.5"/>
<path d="M297.10,258.70h34.9" stroke="#000" stroke-width="1.5" stroke-dasharray="3.6 4.2"/>
<text transform="translate(338.00,252.10) scale(0.1,0.1)" font-size="75.0" fill="#1a1a1a" stroke="#1a1a1a" stroke-width="1.8"><tspan fill="#333" stroke="none" font-size="78">&#952;</tspan><tspan font-weight="bold">=81</tspan><tspan font-size="48" dy="-33" dx="3" font-weight="bold">0</tspan></text>
<text transform="translate(338.00,261.30) scale(0.1,0.1)" font-size="75.0" fill="#1a1a1a" stroke="#1a1a1a" stroke-width="1.8"><tspan fill="#333" stroke="none" font-size="78">&#952;</tspan><tspan font-weight="bold">=180</tspan><tspan font-size="48" dy="-33" dx="3" font-weight="bold">0</tspan></text>
<text transform="translate(294.25,356.20) scale(0.1,0.1)" text-anchor="middle" font-size="70.0" font-weight="bold" fill="#111" stroke="#111" stroke-width="1.2">Heliocentric Distance (r/Rs)</text>
<text transform="translate(197.10,267.10) rotate(-90) scale(0.1,0.1)" text-anchor="middle" font-size="70.0" font-weight="bold" fill="#111" stroke="#111" stroke-width="0.5">Radial Velocity</text>
<text transform="translate(297.70,370.80) scale(0.095,0.1)" text-anchor="middle" font-size="148.0" class="serif" fill="#222">(b2)</text>
<clipPath id="c21"><rect x="404.40" y="191.60" width="163.20" height="149.90"/></clipPath>
<text transform="translate(401.70,322.28) scale(0.086,0.1)" text-anchor="end" font-size="64.0" fill="#111" stroke="#111" stroke-width="0.8">100</text>
<text transform="translate(401.70,301.06) scale(0.086,0.1)" text-anchor="end" font-size="64.0" fill="#111" stroke="#111" stroke-width="0.8">200</text>
<text transform="translate(401.70,279.84) scale(0.086,0.1)" text-anchor="end" font-size="64.0" fill="#111" stroke="#111" stroke-width="0.8">300</text>
<text transform="translate(401.70,258.62) scale(0.086,0.1)" text-anchor="end" font-size="64.0" fill="#111" stroke="#111" stroke-width="0.8">400</text>
<text transform="translate(401.70,237.40) scale(0.086,0.1)" text-anchor="end" font-size="64.0" fill="#111" stroke="#111" stroke-width="0.8">500</text>
<text transform="translate(401.70,216.18) scale(0.086,0.1)" text-anchor="end" font-size="64.0" fill="#111" stroke="#111" stroke-width="0.8">600</text>
<text transform="translate(401.70,194.96) scale(0.086,0.1)" text-anchor="end" font-size="64.0" fill="#111" stroke="#111" stroke-width="0.8">700</text>
<text transform="translate(439.34,347.20) scale(0.1,0.1)" text-anchor="middle" font-size="58.0" fill="#111" stroke="#111" stroke-width="0.8">5</text>
<text transform="translate(482.51,347.20) scale(0.1,0.1)" text-anchor="middle" font-size="58.0" fill="#111" stroke="#111" stroke-width="0.8">10</text>
<text transform="translate(525.69,347.20) scale(0.1,0.1)" text-anchor="middle" font-size="58.0" fill="#111" stroke="#111" stroke-width="0.8">15</text>
<path d="M404.40,341.20h3.60M404.40,319.98h3.60M404.40,298.76h3.60M404.40,277.54h3.60M404.40,256.32h3.60M404.40,235.10h3.60M404.40,213.88h3.60M404.40,192.66h3.60M438.94,341.50v-3.40M482.11,341.50v-3.40M525.29,341.50v-3.40" stroke="#2a2a2a" stroke-width="1" fill="none"/>
<path d="M404.40,336.96h2.40M404.40,332.71h2.40M404.40,328.47h2.40M404.40,324.22h2.40M404.40,315.74h2.40M404.40,311.49h2.40M404.40,307.25h2.40M404.40,303.00h2.40M404.40,294.52h2.40M404.40,290.27h2.40M404.40,286.03h2.40M404.40,281.78h2.40M404.40,273.30h2.40M404.40,269.05h2.40M404.40,264.81h2.40M404.40,260.56h2.40M404.40,252.08h2.40M404.40,247.83h2.40M404.40,243.59h2.40M404.40,239.34h2.40M404.40,230.86h2.40M404.40,226.61h2.40M404.40,222.37h2.40M404.40,218.12h2.40M404.40,209.64h2.40M404.40,205.39h2.40M404.40,201.15h2.40M404.40,196.90h2.40M413.03,341.50v-2.60M421.67,341.50v-2.60M430.30,341.50v-2.60M447.57,341.50v-2.60M456.21,341.50v-2.60M464.84,341.50v-2.60M473.48,341.50v-2.60M490.75,341.50v-2.60M499.38,341.50v-2.60M508.02,341.50v-2.60M516.65,341.50v-2.60M533.92,341.50v-2.60M542.56,341.50v-2.60M551.19,341.50v-2.60M559.83,341.50v-2.60" stroke="#555" stroke-width="0.8" fill="none"/>
<rect x="404.40" y="192.10" width="163.20" height="149.40" fill="none" stroke="#2a2a2a" stroke-width="1"/>
<g clip-path="url(#c21)" fill="none" stroke="#000" stroke-width="1.7">
<path d="M404.40,341.20L404.91,340.89 405.42,340.58 405.93,340.27 406.44,339.96 406.95,339.64 407.45,339.32 407.96,339.00 408.46,338.68 408.96,338.36 409.46,338.03 409.96,337.71 410.46,337.38 410.96,337.05 411.46,336.72 411.96,336.38 412.45,336.05 412.95,335.71 413.44,335.38 413.94,335.04 414.43,334.70 414.92,334.36 415.42,334.02 415.91,333.67 416.40,333.33 416.89,332.99 417.38,332.64 417.87,332.30 418.36,331.95 418.85,331.61 419.34,331.26 419.83,330.91 420.32,330.56 420.81,330.22 421.30,329.87 421.79,329.52 422.28,329.17 422.77,328.82 423.25,328.48 423.74,328.13 424.23,327.78 424.72,327.43 425.21,327.08 425.70,326.74 426.19,326.39 426.68,326.04 427.17,325.70 427.66,325.35 428.16,325.01 428.65,324.67 429.14,324.32 429.63,323.98 430.13,323.64 430.62,323.30 431.12,322.96 431.61,322.62 432.11,322.29 432.61,321.95 433.11,321.62 433.61,321.28 434.11,320.95 434.61,320.62 435.11,320.29 435.61,319.97 436.11,319.64 436.62,319.32 437.12,318.99 437.63,318.67 438.14,318.35 438.64,318.04 439.15,317.72 439.66,317.41 440.17,317.09 440.69,316.78 441.20,316.47 441.71,316.17 442.23,315.86 442.74,315.56 443.26,315.26 443.78,314.96 444.30,314.66 444.82,314.36 445.34,314.07 445.86,313.78 446.38,313.49 446.91,313.20 447.43,312.92 447.96,312.63 448.49,312.35 449.02,312.07 449.55,311.80 450.08,311.52 450.61,311.25 451.14,310.98 451.68,310.71 452.22,310.45 452.75,310.18 453.29,309.92 453.83,309.67 454.37,309.41 454.91,309.16 455.46,308.91 456.00,308.66 456.55,308.42 457.09,308.17 457.64,307.93 458.19,307.70 458.74,307.46 459.29,307.23 459.84,307.00 460.39,306.77 460.95,306.54 461.50,306.31 462.06,306.09 462.62,305.87 463.17,305.65 463.73,305.43 464.29,305.22 464.85,305.00 465.41,304.79 465.97,304.58 466.53,304.37 467.09,304.16 467.66,303.96 468.22,303.75 468.78,303.55 469.35,303.34 469.91,303.14 470.48,302.94 471.04,302.74 471.61,302.55 472.17,302.35 472.74,302.15 473.31,301.96 473.87,301.77 474.44,301.58 475.01,301.38 475.58,301.19 476.15,301.01 476.71,300.82 477.28,300.63 477.85,300.45 478.42,300.26 478.99,300.08 479.56,299.90 480.13,299.72 480.71,299.54 481.28,299.36 481.85,299.18 482.42,299.00 482.99,298.83 483.57,298.65 484.14,298.48 484.71,298.31 485.29,298.14 485.86,297.97 486.44,297.80 487.01,297.63 487.59,297.46 488.16,297.30 488.74,297.13 489.31,296.97 489.89,296.81 490.47,296.64 491.04,296.48 491.62,296.32 492.20,296.16 492.78,296.01 493.35,295.85 493.93,295.69 494.51,295.54 495.09,295.38 495.67,295.23 496.25,295.08 496.83,294.93 497.41,294.78 497.99,294.63 498.57,294.48 499.15,294.33 499.73,294.19 500.31,294.04 500.89,293.90 501.48,293.76 502.06,293.61 502.64,293.47 503.22,293.33 503.80,293.19 504.39,293.05 504.97,292.92 505.55,292.78 506.14,292.64 506.72,292.51 507.31,292.37 507.89,292.24 508.47,292.11 509.06,291.98 509.64,291.85 510.23,291.72 510.82,291.59 511.40,291.46 511.99,291.33 512.57,291.20 513.16,291.08 513.74,290.95 514.33,290.83 514.92,290.71 515.51,290.59 516.09,290.46 516.68,290.34 517.27,290.22 517.85,290.11 518.44,289.99 519.03,289.87 519.62,289.75 520.21,289.64 520.80,289.52 521.38,289.41 521.97,289.30 522.56,289.18 523.15,289.07 523.74,288.96 524.33,288.85 524.92,288.74 525.51,288.63 526.10,288.52 526.69,288.42 527.28,288.31 527.87,288.21 528.46,288.10 529.05,288.00 529.64,287.89 530.23,287.79 530.82,287.69 531.41,287.59 532.01,287.49 532.60,287.39 533.19,287.29 533.78,287.19 534.37,287.09 534.96,286.99 535.56,286.90 536.15,286.80 536.74,286.71 537.33,286.61 537.92,286.52 538.52,286.43 539.11,286.33 539.70,286.24 540.29,286.15 540.89,286.06 541.48,285.97 542.07,285.88 542.66,285.79 543.26,285.71 543.85,285.62 544.44,285.53 545.04,285.45 545.63,285.36 546.22,285.28 546.82,285.19 547.41,285.11 548.00,285.03 548.60,284.94 549.19,284.86 549.78,284.78 550.38,284.70 550.97,284.62 551.57,284.54 552.16,284.46 552.75,284.38 553.35,284.31 553.94,284.23 554.53,284.15 555.13,284.08 555.72,284.00 556.32,283.93 556.91,283.85 557.50,283.78 558.10,283.71 558.69,283.63 559.29,283.56 559.88,283.49 560.47,283.42 561.07,283.35 561.66,283.28 562.26,283.21 562.85,283.14 563.44,283.07 564.04,283.00 564.63,282.93 565.22,282.86 565.82,282.80 566.41,282.73 567.01,282.67 567.60,282.60"/>
<path d="M404.41,341.21L404.78,340.74 405.15,340.27 405.51,339.80 405.87,339.33 406.23,338.85 406.58,338.38 406.94,337.90 407.29,337.42 407.64,336.94 407.98,336.45 408.33,335.97 408.67,335.48 409.01,334.99 409.34,334.50 409.68,334.01 410.01,333.52 410.34,333.03 410.67,332.53 410.99,332.04 411.32,331.54 411.64,331.04 411.96,330.54 412.28,330.04 412.59,329.54 412.91,329.03 413.22,328.53 413.53,328.02 413.84,327.51 414.14,327.00 414.45,326.49 414.75,325.98 415.05,325.47 415.35,324.96 415.65,324.44 415.95,323.93 416.24,323.41 416.54,322.89 416.83,322.37 417.12,321.86 417.41,321.33 417.70,320.81 417.98,320.29 418.27,319.77 418.55,319.24 418.83,318.72 419.11,318.19 419.39,317.67 419.67,317.14 419.95,316.61 420.23,316.08 420.50,315.55 420.78,315.02 421.05,314.49 421.32,313.96 421.60,313.43 421.87,312.90 422.14,312.36 422.41,311.83 422.67,311.29 422.94,310.76 423.21,310.22 423.48,309.69 423.74,309.15 424.01,308.61 424.27,308.08 424.53,307.54 424.80,307.00 425.06,306.46 425.32,305.92 425.58,305.38 425.84,304.84 426.10,304.30 426.36,303.76 426.62,303.22 426.88,302.68 427.14,302.14 427.40,301.60 427.66,301.06 427.92,300.52 428.18,299.97 428.44,299.43 428.70,298.89 428.96,298.35 429.21,297.81 429.47,297.27 429.73,296.72 429.99,296.18 430.25,295.64 430.51,295.10 430.77,294.56 431.03,294.02 431.29,293.47 431.55,292.93 431.81,292.39 432.07,291.85 432.33,291.31 432.59,290.77 432.85,290.23 433.12,289.69 433.38,289.15 433.64,288.61 433.91,288.07 434.17,287.53 434.44,286.99 434.70,286.45 434.97,285.92 435.24,285.38 435.51,284.84 435.78,284.31 436.05,283.77 436.32,283.23 436.59,282.70 436.86,282.17 437.13,281.63 437.41,281.10 437.68,280.57 437.96,280.03 438.23,279.50 438.51,278.97 438.79,278.44 439.07,277.91 439.35,277.38 439.63,276.85 439.91,276.32 440.20,275.79 440.48,275.27 440.77,274.74 441.05,274.22 441.34,273.69 441.63,273.17 441.92,272.64 442.21,272.12 442.50,271.60 442.79,271.08 443.09,270.56 443.38,270.04 443.68,269.52 443.98,269.00 444.28,268.48 444.58,267.96 444.88,267.45 445.18,266.93 445.49,266.42 445.79,265.91 446.10,265.39 446.41,264.88 446.72,264.37 447.03,263.86 447.34,263.35 447.65,262.85 447.97,262.34 448.29,261.83 448.60,261.33 448.92,260.82 449.25,260.32 449.57,259.82 449.89,259.32 450.22,258.82 450.55,258.32 450.87,257.82 451.20,257.33 451.54,256.83 451.87,256.34 452.21,255.84 452.54,255.35 452.88,254.86 453.22,254.37 453.56,253.88 453.91,253.40 454.25,252.91 454.60,252.42 454.95,251.94 455.30,251.46 455.65,250.98 456.01,250.50 456.36,250.02 456.72,249.54 457.08,249.06 457.44,248.59 457.81,248.12 458.17,247.64 458.54,247.17 458.91,246.70 459.28,246.23 459.65,245.77 460.03,245.30 460.41,244.84 460.79,244.38 461.17,243.91 461.55,243.45 461.93,243.00 462.32,242.54 462.71,242.08 463.10,241.63 463.49,241.18 463.89,240.73 464.29,240.28 464.68,239.83 465.08,239.38 465.49,238.94 465.89,238.49 466.30,238.05 466.70,237.61 467.11,237.17 467.52,236.73 467.94,236.30 468.35,235.86 468.77,235.43 469.19,235.00 469.61,234.57 470.03,234.14 470.45,233.72 470.88,233.29 471.31,232.87 471.73,232.45 472.16,232.03 472.60,231.61 473.03,231.19 473.47,230.78 473.90,230.37 474.34,229.96 474.78,229.55 475.23,229.14 475.67,228.73 476.12,228.33 476.56,227.92 477.01,227.52 477.46,227.12 477.91,226.73 478.37,226.33 478.82,225.94 479.28,225.55 479.74,225.16 480.20,224.77 480.66,224.38 481.12,224.00 481.59,223.61 482.06,223.23 482.52,222.85 482.99,222.48 483.46,222.10 483.94,221.73 484.41,221.36 484.88,220.99 485.36,220.62 485.84,220.25 486.32,219.89 486.80,219.53 487.28,219.17 487.77,218.81 488.25,218.45 488.74,218.10 489.23,217.75 489.72,217.40 490.21,217.05 490.70,216.70 491.20,216.36 491.69,216.01 492.19,215.67 492.69,215.34 493.18,215.00 493.69,214.67 494.19,214.34 494.69,214.01 495.19,213.68 495.70,213.35 496.21,213.03 496.72,212.71 497.23,212.39 497.74,212.07 498.25,211.76 498.76,211.44 499.28,211.13 499.79,210.82 500.31,210.52 500.83,210.21 501.35,209.91 501.87,209.61 502.39,209.32 502.91,209.02 503.44,208.73 503.96,208.44 504.49,208.15 505.02,207.86 505.55,207.58 506.08,207.30 506.61,207.02 507.14,206.74 507.68,206.46 508.21,206.19 508.75,205.92 509.28,205.65 509.82,205.39 510.36,205.13 510.90,204.86 511.44,204.61 511.98,204.35 512.53,204.10 513.07,203.85 513.62,203.60 514.16,203.35 514.71,203.11 515.26,202.86 515.81,202.63 516.36,202.39 516.91,202.15 517.46,201.92 518.01,201.69 518.57,201.47 519.12,201.24 519.68,201.02 520.23,200.80 520.79,200.58 521.35,200.37 521.91,200.16 522.47,199.95 523.03,199.74 523.59,199.54 524.15,199.34 524.72,199.14 525.28,198.94 525.85,198.75 526.41,198.56 526.98,198.37 527.55,198.18 528.12,198.00 528.69,197.82 529.26,197.64 529.83,197.47 530.40,197.29 530.97,197.12 531.55,196.96 532.12,196.79 532.70,196.63 533.27,196.47 533.85,196.32 534.42,196.16 535.00,196.01 535.58,195.86 536.16,195.72 536.74,195.57 537.32,195.43 537.90,195.30 538.48,195.16 539.06,195.03 539.65,194.90 540.23,194.78 540.81,194.65 541.40,194.53 541.98,194.42 542.57,194.30 543.16,194.19 543.74,194.08 544.33,193.98 544.92,193.87 545.51,193.77 546.10,193.68 546.69,193.58 547.28,193.49 547.87,193.40 548.46,193.32 549.05,193.24 549.64,193.16 550.24,193.08 550.83,193.01 551.42,192.94 552.02,192.87 552.61,192.80 553.21,192.74 553.80,192.68 554.40,192.63 555.00,192.58 555.59,192.53 556.19,192.48 556.79,192.44 557.38,192.40 557.98,192.36 558.58,192.33 559.18,192.30 559.78,192.27 560.38,192.24 560.98,192.22 561.58,192.20 562.18,192.19 562.78,192.18 563.38,192.17 563.98,192.16 564.59,192.16 565.19,192.16 565.79,192.17 566.39,192.17 567.00,192.18 567.60,192.20" stroke-dasharray="3.6 4.3"/>
</g>
<path d="M488.20,248.60h34.9" stroke="#000" stroke-width="1.5"/>
<path d="M488.20,257.90h34.9" stroke="#000" stroke-width="1.5" stroke-dasharray="3.6 4.2"/>
<text transform="translate(529.20,251.20) scale(0.1,0.1)" font-size="75.0" fill="#1a1a1a" stroke="#1a1a1a" stroke-width="1.8"><tspan fill="#333" stroke="none" font-size="78">&#952;</tspan><tspan font-weight="bold">=81</tspan><tspan font-size="48" dy="-33" dx="3" font-weight="bold">0</tspan></text>
<text transform="translate(529.20,260.50) scale(0.1,0.1)" font-size="75.0" fill="#1a1a1a" stroke="#1a1a1a" stroke-width="1.8"><tspan fill="#333" stroke="none" font-size="78">&#952;</tspan><tspan font-weight="bold">=180</tspan><tspan font-size="48" dy="-33" dx="3" font-weight="bold">0</tspan></text>
<text transform="translate(486.00,356.20) scale(0.1,0.1)" text-anchor="middle" font-size="70.0" font-weight="bold" fill="#111" stroke="#111" stroke-width="1.2">Heliocentric Distance (r/Rs)</text>
<text transform="translate(389.00,267.10) rotate(-90) scale(0.1,0.1)" text-anchor="middle" font-size="70.0" font-weight="bold" fill="#111" stroke="#111" stroke-width="0.5">Radial Velocity</text>
<text transform="translate(486.35,370.80) scale(0.095,0.1)" text-anchor="middle" font-size="148.0" class="serif" fill="#222">(c2)</text>
<clipPath id="c31"><rect x="596.40" y="191.60" width="163.00" height="149.90"/></clipPath>
<text transform="translate(593.70,343.50) scale(0.086,0.1)" text-anchor="end" font-size="64.0" fill="#111" stroke="#111" stroke-width="0.8">0</text>
<text transform="translate(593.70,322.28) scale(0.086,0.1)" text-anchor="end" font-size="64.0" fill="#111" stroke="#111" stroke-width="0.8">100</text>
<text transform="translate(593.70,301.06) scale(0.086,0.1)" text-anchor="end" font-size="64.0" fill="#111" stroke="#111" stroke-width="0.8">200</text>
<text transform="translate(593.70,279.84) scale(0.086,0.1)" text-anchor="end" font-size="64.0" fill="#111" stroke="#111" stroke-width="0.8">300</text>
<text transform="translate(593.70,258.62) scale(0.086,0.1)" text-anchor="end" font-size="64.0" fill="#111" stroke="#111" stroke-width="0.8">400</text>
<text transform="translate(593.70,237.40) scale(0.086,0.1)" text-anchor="end" font-size="64.0" fill="#111" stroke="#111" stroke-width="0.8">500</text>
<text transform="translate(593.70,216.18) scale(0.086,0.1)" text-anchor="end" font-size="64.0" fill="#111" stroke="#111" stroke-width="0.8">600</text>
<text transform="translate(593.70,194.96) scale(0.086,0.1)" text-anchor="end" font-size="64.0" fill="#111" stroke="#111" stroke-width="0.8">700</text>
<text transform="translate(631.30,347.20) scale(0.1,0.1)" text-anchor="middle" font-size="58.0" fill="#111" stroke="#111" stroke-width="0.8">5</text>
<text transform="translate(674.42,347.20) scale(0.1,0.1)" text-anchor="middle" font-size="58.0" fill="#111" stroke="#111" stroke-width="0.8">10</text>
<text transform="translate(717.54,347.20) scale(0.1,0.1)" text-anchor="middle" font-size="58.0" fill="#111" stroke="#111" stroke-width="0.8">15</text>
<path d="M596.40,341.20h3.60M596.40,319.98h3.60M596.40,298.76h3.60M596.40,277.54h3.60M596.40,256.32h3.60M596.40,235.10h3.60M596.40,213.88h3.60M596.40,192.66h3.60M630.90,341.50v-3.40M674.02,341.50v-3.40M717.14,341.50v-3.40" stroke="#2a2a2a" stroke-width="1" fill="none"/>
<path d="M596.40,336.96h2.40M596.40,332.71h2.40M596.40,328.47h2.40M596.40,324.22h2.40M596.40,315.74h2.40M596.40,311.49h2.40M596.40,307.25h2.40M596.40,303.00h2.40M596.40,294.52h2.40M596.40,290.27h2.40M596.40,286.03h2.40M596.40,281.78h2.40M596.40,273.30h2.40M596.40,269.05h2.40M596.40,264.81h2.40M596.40,260.56h2.40M596.40,252.08h2.40M596.40,247.83h2.40M596.40,243.59h2.40M596.40,239.34h2.40M596.40,230.86h2.40M596.40,226.61h2.40M596.40,222.37h2.40M596.40,218.12h2.40M596.40,209.64h2.40M596.40,205.39h2.40M596.40,201.15h2.40M596.40,196.90h2.40M605.02,341.50v-2.60M613.65,341.50v-2.60M622.27,341.50v-2.60M639.52,341.50v-2.60M648.15,341.50v-2.60M656.77,341.50v-2.60M665.39,341.50v-2.60M682.64,341.50v-2.60M691.27,341.50v-2.60M699.89,341.50v-2.60M708.52,341.50v-2.60M725.77,341.50v-2.60M734.39,341.50v-2.60M743.01,341.50v-2.60M751.64,341.50v-2.60" stroke="#555" stroke-width="0.8" fill="none"/>
<rect x="596.40" y="192.10" width="163.00" height="149.40" fill="none" stroke="#2a2a2a" stroke-width="1"/>
<g clip-path="url(#c31)" fill="none" stroke="#000" stroke-width="1.7">
<path d="M596.40,341.20L596.65,340.63 596.94,340.09 597.26,339.59 597.61,339.13 598.00,338.69 598.41,338.27 598.84,337.88 599.29,337.51 599.76,337.15 600.24,336.81 600.74,336.48 601.23,336.15 601.74,335.82 602.24,335.50 602.74,335.17 603.24,334.83 603.73,334.48 604.21,334.13 604.68,333.76 605.14,333.39 605.60,333.00 606.05,332.61 606.49,332.21 606.93,331.81 607.36,331.40 607.79,330.99 608.22,330.57 608.64,330.15 609.06,329.72 609.48,329.30 609.90,328.87 610.32,328.44 610.73,328.01 611.15,327.59 611.57,327.16 612.00,326.74 612.42,326.32 612.85,325.90 613.28,325.48 613.71,325.07 614.15,324.66 614.58,324.25 615.02,323.85 615.46,323.44 615.91,323.04 616.35,322.64 616.80,322.25 617.25,321.85 617.70,321.46 618.16,321.07 618.62,320.69 619.08,320.30 619.54,319.92 620.00,319.55 620.46,319.17 620.93,318.80 621.40,318.42 621.87,318.06 622.34,317.69 622.82,317.32 623.30,316.96 623.78,316.60 624.26,316.25 624.74,315.89 625.22,315.54 625.71,315.19 626.20,314.84 626.69,314.50 627.18,314.16 627.67,313.82 628.17,313.48 628.66,313.15 629.16,312.81 629.66,312.48 630.16,312.15 630.66,311.83 631.17,311.51 631.67,311.18 632.18,310.87 632.69,310.55 633.20,310.24 633.71,309.92 634.23,309.61 634.74,309.31 635.26,309.00 635.78,308.70 636.30,308.40 636.82,308.10 637.34,307.81 637.86,307.52 638.38,307.23 638.91,306.94 639.44,306.65 639.96,306.37 640.49,306.09 641.02,305.81 641.56,305.53 642.09,305.26 642.62,304.98 643.16,304.71 643.69,304.45 644.23,304.18 644.77,303.92 645.31,303.66 645.85,303.40 646.39,303.14 646.93,302.89 647.47,302.64 648.02,302.39 648.56,302.14 649.11,301.89 649.65,301.65 650.20,301.41 650.75,301.17 651.30,300.93 651.85,300.70 652.40,300.47 652.95,300.24 653.50,300.01 654.05,299.78 654.61,299.56 655.16,299.34 655.72,299.12 656.27,298.90 656.83,298.68 657.39,298.47 657.94,298.26 658.50,298.05 659.06,297.84 659.62,297.63 660.18,297.43 660.74,297.22 661.31,297.02 661.87,296.82 662.43,296.62 663.00,296.43 663.56,296.23 664.13,296.04 664.70,295.85 665.26,295.66 665.83,295.47 666.40,295.29 666.97,295.10 667.54,294.92 668.10,294.74 668.68,294.56 669.25,294.38 669.82,294.21 670.39,294.03 670.96,293.86 671.54,293.69 672.11,293.52 672.68,293.35 673.26,293.18 673.83,293.01 674.41,292.85 674.98,292.69 675.56,292.52 676.14,292.36 676.71,292.20 677.29,292.05 677.87,291.89 678.45,291.73 679.03,291.58 679.61,291.43 680.19,291.27 680.77,291.12 681.35,290.97 681.93,290.83 682.51,290.68 683.09,290.53 683.67,290.39 684.25,290.24 684.84,290.10 685.42,289.96 686.00,289.82 686.58,289.68 687.17,289.54 687.75,289.40 688.34,289.26 688.92,289.13 689.50,288.99 690.09,288.86 690.67,288.72 691.26,288.59 691.85,288.46 692.43,288.33 693.02,288.20 693.60,288.07 694.19,287.94 694.77,287.81 695.36,287.68 695.95,287.56 696.53,287.43 697.12,287.30 697.71,287.18 698.30,287.06 698.88,286.93 699.47,286.81 700.06,286.69 700.64,286.57 701.23,286.44 701.82,286.32 702.41,286.20 702.99,286.08 703.58,285.96 704.17,285.85 704.76,285.73 705.34,285.61 705.93,285.49 706.52,285.37 707.11,285.26 707.69,285.14 708.28,285.02 708.87,284.91 709.46,284.79 710.04,284.68 710.63,284.56 711.22,284.45 711.81,284.34 712.39,284.22 712.98,284.11 713.57,284.00 714.16,283.88 714.74,283.77 715.33,283.66 715.92,283.55 716.51,283.44 717.09,283.32 717.68,283.21 718.27,283.10 718.86,282.99 719.44,282.88 720.03,282.78 720.62,282.67 721.21,282.56 721.79,282.45 722.38,282.34 722.97,282.24 723.56,282.13 724.14,282.02 724.73,281.92 725.32,281.81 725.91,281.71 726.50,281.60 727.08,281.50 727.67,281.39 728.26,281.29 728.85,281.18 729.44,281.08 730.03,280.98 730.61,280.88 731.20,280.77 731.79,280.67 732.38,280.57 732.97,280.47 733.56,280.37 734.15,280.27 734.74,280.17 735.33,280.07 735.91,279.97 736.50,279.87 737.09,279.77 737.68,279.68 738.27,279.58 738.86,279.48 739.45,279.38 740.04,279.29 740.63,279.19 741.22,279.09 741.81,279.00 742.40,278.90 742.99,278.81 743.59,278.72 744.18,278.62 744.77,278.53 745.36,278.44 745.95,278.34 746.54,278.25 747.13,278.16 747.72,278.07 748.32,277.98 748.91,277.88 749.50,277.79 750.09,277.70 750.69,277.61 751.28,277.53 751.87,277.44 752.46,277.35 753.06,277.26 753.65,277.17 754.24,277.09 754.84,277.00 755.43,276.91 756.03,276.83 756.62,276.74 757.22,276.65 757.81,276.57 758.41,276.48 759.00,276.40"/>
<path d="M596.42,341.21L596.79,340.75 597.16,340.28 597.53,339.82 597.89,339.35 598.25,338.88 598.61,338.40 598.97,337.93 599.32,337.46 599.68,336.98 600.03,336.50 600.38,336.02 600.72,335.54 601.06,335.06 601.41,334.57 601.74,334.09 602.08,333.60 602.42,333.11 602.75,332.62 603.08,332.13 603.41,331.64 603.73,331.14 604.06,330.65 604.38,330.15 604.70,329.65 605.02,329.16 605.34,328.66 605.65,328.15 605.97,327.65 606.28,327.15 606.59,326.64 606.90,326.14 607.20,325.63 607.51,325.12 607.81,324.61 608.11,324.10 608.41,323.59 608.71,323.08 609.01,322.56 609.31,322.05 609.60,321.53 609.89,321.02 610.19,320.50 610.48,319.98 610.77,319.46 611.05,318.94 611.34,318.42 611.63,317.90 611.91,317.37 612.19,316.85 612.48,316.33 612.76,315.80 613.04,315.28 613.32,314.75 613.59,314.22 613.87,313.70 614.15,313.17 614.42,312.64 614.70,312.11 614.97,311.58 615.24,311.05 615.51,310.52 615.79,309.98 616.06,309.45 616.33,308.92 616.60,308.39 616.86,307.85 617.13,307.32 617.40,306.78 617.67,306.25 617.93,305.71 618.20,305.18 618.46,304.64 618.73,304.10 618.99,303.57 619.26,303.03 619.52,302.49 619.79,301.95 620.05,301.41 620.32,300.88 620.58,300.34 620.84,299.80 621.10,299.26 621.37,298.72 621.63,298.18 621.89,297.64 622.16,297.10 622.42,296.56 622.68,296.03 622.95,295.49 623.21,294.95 623.47,294.41 623.74,293.87 624.00,293.33 624.26,292.79 624.53,292.25 624.79,291.71 625.06,291.17 625.32,290.63 625.59,290.09 625.86,289.56 626.12,289.02 626.39,288.48 626.66,287.94 626.93,287.40 627.20,286.87 627.47,286.33 627.74,285.79 628.01,285.26 628.28,284.72 628.55,284.19 628.82,283.65 629.10,283.12 629.37,282.58 629.65,282.05 629.92,281.51 630.20,280.98 630.48,280.45 630.75,279.92 631.03,279.38 631.31,278.85 631.59,278.32 631.88,277.79 632.16,277.26 632.44,276.73 632.73,276.20 633.01,275.68 633.30,275.15 633.59,274.62 633.87,274.09 634.16,273.57 634.45,273.04 634.74,272.52 635.04,272.00 635.33,271.47 635.63,270.95 635.92,270.43 636.22,269.91 636.52,269.39 636.81,268.87 637.11,268.35 637.42,267.83 637.72,267.31 638.02,266.80 638.33,266.28 638.63,265.76 638.94,265.25 639.25,264.74 639.56,264.23 639.87,263.71 640.19,263.20 640.50,262.69 640.82,262.18 641.13,261.68 641.45,261.17 641.77,260.66 642.09,260.16 642.41,259.65 642.74,259.15 643.06,258.65 643.39,258.15 643.72,257.65 644.05,257.15 644.38,256.65 644.72,256.15 645.05,255.66 645.39,255.16 645.73,254.67 646.06,254.18 646.41,253.69 646.75,253.20 647.09,252.71 647.44,252.22 647.79,251.73 648.14,251.25 648.49,250.76 648.84,250.28 649.20,249.80 649.56,249.32 649.91,248.84 650.28,248.36 650.64,247.89 651.00,247.41 651.37,246.94 651.74,246.46 652.11,245.99 652.48,245.52 652.85,245.05 653.23,244.59 653.61,244.12 653.99,243.66 654.37,243.19 654.75,242.73 655.13,242.27 655.52,241.81 655.91,241.36 656.30,240.90 656.69,240.45 657.09,239.99 657.48,239.54 657.88,239.09 658.28,238.64 658.68,238.20 659.08,237.75 659.49,237.31 659.89,236.87 660.30,236.43 660.71,235.99 661.12,235.55 661.54,235.11 661.95,234.68 662.37,234.25 662.79,233.82 663.21,233.39 663.63,232.96 664.05,232.53 664.48,232.11 664.90,231.69 665.33,231.26 665.76,230.85 666.19,230.43 666.63,230.01 667.06,229.60 667.50,229.18 667.94,228.77 668.38,228.36 668.82,227.96 669.26,227.55 669.70,227.15 670.15,226.75 670.60,226.34 671.05,225.95 671.50,225.55 671.95,225.15 672.41,224.76 672.86,224.37 673.32,223.98 673.78,223.59 674.24,223.21 674.70,222.82 675.16,222.44 675.63,222.06 676.09,221.68 676.56,221.31 677.03,220.93 677.50,220.56 677.97,220.19 678.45,219.82 678.92,219.46 679.40,219.09 679.87,218.73 680.35,218.37 680.83,218.01 681.32,217.65 681.80,217.30 682.29,216.95 682.77,216.60 683.26,216.25 683.75,215.90 684.24,215.56 684.73,215.22 685.22,214.88 685.72,214.54 686.21,214.20 686.71,213.87 687.21,213.54 687.71,213.21 688.21,212.88 688.71,212.56 689.22,212.23 689.72,211.91 690.23,211.59 690.74,211.28 691.25,210.96 691.76,210.65 692.27,210.34 692.78,210.03 693.30,209.73 693.81,209.43 694.33,209.13 694.85,208.83 695.36,208.53 695.88,208.24 696.41,207.95 696.93,207.66 697.45,207.37 697.98,207.09 698.50,206.80 699.03,206.52 699.56,206.25 700.09,205.97 700.62,205.70 701.15,205.43 701.69,205.16 702.22,204.89 702.76,204.63 703.29,204.37 703.83,204.11 704.37,203.86 704.91,203.60 705.45,203.35 705.99,203.11 706.54,202.86 707.08,202.62 707.63,202.38 708.17,202.14 708.72,201.90 709.27,201.67 709.82,201.44 710.37,201.21 710.92,200.98 711.47,200.76 712.03,200.54 712.58,200.32 713.14,200.11 713.69,199.90 714.25,199.69 714.81,199.48 715.37,199.27 715.93,199.07 716.49,198.87 717.05,198.68 717.62,198.48 718.18,198.29 718.75,198.10 719.31,197.92 719.88,197.73 720.45,197.55 721.02,197.38 721.59,197.20 722.16,197.03 722.73,196.86 723.30,196.69 723.87,196.53 724.45,196.37 725.02,196.21 725.60,196.06 726.18,195.90 726.75,195.76 727.33,195.61 727.91,195.46 728.49,195.32 729.07,195.19 729.65,195.05 730.24,194.92 730.82,194.79 731.40,194.66 731.99,194.54 732.57,194.42 733.16,194.30 733.75,194.19 734.34,194.08 734.92,193.97 735.51,193.86 736.10,193.76 736.69,193.66 737.29,193.56 737.88,193.47 738.47,193.38 739.06,193.29 739.66,193.21 740.25,193.12 740.85,193.05 741.44,192.97 742.04,192.90 742.64,192.83 743.24,192.76 743.84,192.70 744.44,192.64 745.04,192.59 745.64,192.53 746.24,192.48 746.84,192.43 747.44,192.39 748.04,192.35 748.65,192.31 749.25,192.28 749.86,192.25 750.46,192.22 751.07,192.20 751.67,192.17 752.28,192.16 752.89,192.14 753.50,192.13 754.11,192.12 754.71,192.12 755.32,192.12 755.93,192.12 756.54,192.12 757.16,192.13 757.77,192.14 758.38,192.16 758.99,192.18 759.60,192.20" stroke-dasharray="3.6 4.3"/>
</g>
<path d="M679.00,240.80h34.9" stroke="#000" stroke-width="1.5"/>
<path d="M679.00,250.00h34.9" stroke="#000" stroke-width="1.5" stroke-dasharray="3.6 4.2"/>
<text transform="translate(719.70,243.40) scale(0.1,0.1)" font-size="75.0" fill="#1a1a1a" stroke="#1a1a1a" stroke-width="1.8"><tspan fill="#333" stroke="none" font-size="78">&#952;</tspan><tspan font-weight="bold">=90</tspan><tspan font-size="48" dy="-33" dx="3" font-weight="bold">0</tspan></text>
<text transform="translate(719.70,252.60) scale(0.1,0.1)" font-size="75.0" fill="#1a1a1a" stroke="#1a1a1a" stroke-width="1.8"><tspan fill="#333" stroke="none" font-size="78">&#952;</tspan><tspan font-weight="bold">=171</tspan><tspan font-size="48" dy="-33" dx="3" font-weight="bold">0</tspan></text>
<text transform="translate(677.90,356.20) scale(0.1,0.1)" text-anchor="middle" font-size="70.0" font-weight="bold" fill="#111" stroke="#111" stroke-width="1.2">Heliocentric Distance (r/Rs)</text>
<text transform="translate(581.00,267.10) rotate(-90) scale(0.1,0.1)" text-anchor="middle" font-size="70.0" font-weight="bold" fill="#111" stroke="#111" stroke-width="0.5">Radial Velocity</text>
<text transform="translate(675.40,370.80) scale(0.095,0.1)" text-anchor="middle" font-size="148.0" class="serif" fill="#222">(d2)</text>
</svg>
</body></html>
